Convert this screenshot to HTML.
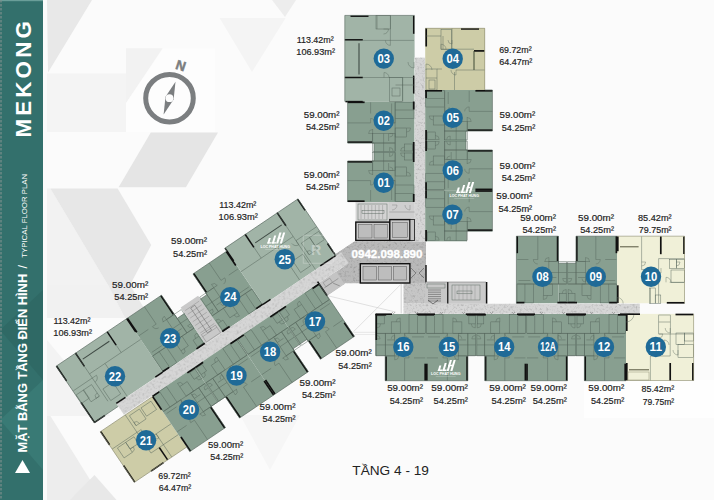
<!DOCTYPE html>
<html><head><meta charset="utf-8"><style>
html,body{margin:0;padding:0;width:714px;height:500px;overflow:hidden;background:#fbfbfb;}
svg{display:block;font-family:"Liberation Sans",sans-serif;}
</style></head><body>
<svg width="714" height="500" viewBox="0 0 714 500"><defs><filter id="spk" x="0" y="0" width="1" height="1" color-interpolation-filters="sRGB">
<feTurbulence type="fractalNoise" baseFrequency="0.45" numOctaves="3" seed="4" result="n"/>
<feColorMatrix in="n" type="matrix" values="0.33 0.33 0.33 0 0  0.33 0.33 0.33 0 0  0.33 0.33 0.33 0 0  0 0 0 0 1" result="g"/>
<feComponentTransfer in="g" result="h"><feFuncR type="linear" slope="0.6" intercept="0.7"/><feFuncG type="linear" slope="0.6" intercept="0.7"/><feFuncB type="linear" slope="0.6" intercept="0.7"/></feComponentTransfer>
<feBlend in="h" in2="SourceGraphic" mode="multiply" result="b"/>
<feComposite in="b" in2="SourceGraphic" operator="in"/>
</filter></defs><rect x="0.0" y="0.0" width="714.0" height="500.0" fill="#fbfbfb" />
<polygon points="47.0,0.0 92.0,0.0 48.0,72.5" fill="#e8e8e8" />
<polygon points="219.6,18.0 285.6,18.0 252.0,72.0" fill="#f4f4f4" />
<polygon points="272.0,0.0 296.0,0.0 285.0,17.0" fill="#ededed" />
<polygon points="47.0,73.5 126.0,73.5 126.0,132.0 47.0,132.0" fill="#f4f4f4" />
<polygon points="150.8,132.6 218.0,132.6 185.9,187.2 118.6,187.2" fill="#e5e5e5" />
<polygon points="47.0,188.4 50.4,188.4 108.0,285.0 47.0,285.0" fill="#f2f2f2" />
<polygon points="50.4,188.4 117.6,188.4 151.2,245.0 130.0,285.0 108.0,285.0" fill="#e7e7e7" />
<polygon points="47.0,285.0 108.0,285.0 125.0,318.0 47.0,318.0" fill="#f1f1f1" />
<polygon points="108.0,285.0 130.0,285.0 150.0,318.0 125.0,318.0" fill="#e9e9e9" />
<polygon points="47.0,340.0 47.0,416.0 110.0,416.0" fill="#f3f3f3" />
<polygon points="47.0,416.0 50.4,416.0 94.5,487.0 82.0,500.0 47.0,500.0" fill="#ededed" />
<polygon points="94.5,475.0 116.5,500.0 70.0,500.0" fill="#e8e8e8" />
<polygon points="240.0,415.0 300.0,415.0 270.0,470.0" fill="#f6f6f6" />
<rect x="584.0" y="380.0" width="130.0" height="38.0" fill="#fefefe" />
<rect x="126.0" y="48.3" width="89.0" height="83.7" fill="#fdfdfd" />
<polygon points="126.0,48.3 162.7,48.3 126.0,103.0" fill="#f2f2f2" />
<rect x="0.0" y="0.0" width="43.0" height="500.0" fill="#33706c" />
<polygon points="0.0,330.0 43.0,290.0 43.0,380.0" fill="#2f6965" />
<polygon points="0.0,420.0 43.0,380.0 43.0,470.0" fill="#397a75" />
<rect x="0.0" y="0.0" width="43.0" height="1.2" fill="#6a9e99" />
<line x1="1" y1="0" x2="1" y2="500" stroke="#7d8f8d" stroke-width="1.2" stroke-dasharray="2.5,1.5"/>
<circle cx="169.5" cy="98.2" r="23.8" fill="none" stroke="#7b7e80" stroke-width="5"/>
<polygon points="175.5,81.8 173.6,99.6 163.6,114.6 165.5,96.8" fill="#7b7e80" />
<circle cx="169.5" cy="98.2" r="3.9" fill="#fdfdfd"/>
<text x="0" y="0" font-family="Liberation Sans" font-weight="bold" font-size="13.5" fill="#7b7e80" stroke="#7b7e80" stroke-width="0.5" transform="translate(174.8,68.4) rotate(18)">N</text>
<line x1="328.4" y1="295.9" x2="395.6" y2="312" stroke="#c4c4c4" stroke-width="0.5"/>
<line x1="400.5" y1="284.7" x2="353.6" y2="331.6" stroke="#c4c4c4" stroke-width="0.5"/>
<line x1="353.6" y1="332.3" x2="376" y2="332.3" stroke="#d0d0d0" stroke-width="0.5"/>
<line x1="355" y1="334.5" x2="376" y2="334.5" stroke="#d8d8d8" stroke-width="0.5"/>
<line x1="401.2" y1="284" x2="401.2" y2="313.4" stroke="#aaaaaa" stroke-width="0.5"/>
<rect x="344.8" y="15.4" width="69.8" height="86.1" fill="#a1b4a7" />
<rect x="347.6" y="101.5" width="67.0" height="41.7" fill="#889f90" />
<rect x="374.0" y="143.0" width="40.6" height="18.2" fill="#889f90" />
<rect x="347.6" y="161.0" width="67.0" height="41.0" fill="#889f90" />
<rect x="355.8" y="202.0" width="58.8" height="39.3" fill="#cbcbcb" />
<rect x="414.6" y="57.4" width="10.6" height="184.0" fill="#d6d6d6" filter="url(#spk)"/>
<rect x="425.2" y="28.0" width="59.8" height="62.0" fill="#cdcca7" />
<rect x="425.2" y="90.0" width="67.2" height="41.0" fill="#889f90" />
<rect x="425.2" y="131.0" width="40.8" height="19.0" fill="#889f90" />
<rect x="425.2" y="150.0" width="67.2" height="40.2" fill="#889f90" />
<rect x="425.2" y="190.2" width="67.2" height="41.0" fill="#889f90" />
<rect x="425.2" y="231.0" width="41.3" height="10.3" fill="#889f90" />
<polygon points="335.2,254.0 354.3,241.3 426.0,241.3 426.0,283.5 345.0,283.5 344.5,283.9 327.1,295.7 318.7,283.2 343.6,266.5" fill="#b9b9b9" filter="url(#spk)"/>
<polygon points="318.7,283.2 336.1,271.5 344.5,283.9 327.1,295.7" fill="#c4c4c4" />
<rect x="403.3" y="283.0" width="22.7" height="21.0" fill="#c6c6c6" filter="url(#spk)"/>
<rect x="403.3" y="303.5" width="236.6" height="10.4" fill="#d6d6d6" filter="url(#spk)"/>
<rect x="425.5" y="282.0" width="61.5" height="21.5" fill="#cbcbcb" />
<rect x="516.4" y="236.2" width="42.0" height="67.0" fill="#889f90" />
<rect x="558.4" y="263.2" width="17.6" height="40.0" fill="#889f90" />
<rect x="576.0" y="236.2" width="41.2" height="67.0" fill="#889f90" />
<rect x="617.2" y="236.2" width="67.7" height="67.0" fill="#f0f0d8" />
<polygon points="375.6,313.9 626.0,313.9 626.0,380.7 584.4,380.7 584.4,355.5 567.5,355.5 567.5,380.7 484.8,380.7 484.8,355.5 467.9,355.5 467.9,380.7 385.2,380.7 385.2,355.5 375.6,355.5" fill="#889f90" />
<rect x="626.0" y="313.9" width="68.0" height="66.8" fill="#f0f0d8" />
<g transform="translate(56.2,366.2) rotate(-34)">
<polygon points="0.0,0.0 85.0,0.0 85.0,65.0 29.0,65.0 29.0,68.0 0.0,68.0" fill="#a1b4a7" />
<polygon points="85.0,0.0 127.0,0.0 127.0,28.0 136.0,28.0 136.0,65.0 85.0,65.0" fill="#889f90" />
<polygon points="136.0,21.0 157.0,21.0 157.0,65.0 136.0,65.0" fill="#c9c9c9" />
<polygon points="165.0,0.0 206.0,0.0 206.0,65.0 157.0,65.0 157.0,25.0 165.0,25.0" fill="#889f90" />
<polygon points="206.0,-3.5 294.0,-3.5 294.0,65.0 206.0,65.0" fill="#a1b4a7" />
<polygon points="29.0,65.0 300.0,65.0 300.0,78.0 29.0,78.0" fill="#d6d6d6" filter="url(#spk)"/>
<polygon points="0.0,79.0 63.0,79.0 63.0,140.0 0.0,140.0" fill="#cdcca7" />
<polygon points="63.0,78.0 114.0,78.0 114.0,120.0 106.0,120.0 106.0,145.5 63.0,145.5" fill="#889f90" />
<polygon points="114.0,78.0 165.0,78.0 165.0,145.5 123.0,145.5 123.0,120.0 114.0,120.0" fill="#889f90" />
<polygon points="165.0,78.0 214.0,78.0 214.0,118.0 206.0,118.0 206.0,145.5 165.0,145.5" fill="#889f90" />
<polygon points="214.0,78.0 264.0,78.0 264.0,142.0 223.0,142.0 223.0,118.0 214.0,118.0" fill="#889f90" />
</g>
<g transform="matrix(0,1,-1,0,414.60,101.50)">
<line x1="0.8" y1="19.5" x2="50.0" y2="19.5" stroke="#55655c" stroke-width="0.45"/>
<rect x="0.6" y="0.6" width="16.4" height="18.9" fill="none" stroke="#55655c" stroke-width="0.45"/>
<line x1="8.5" y1="0.6" x2="8.5" y2="19.5" stroke="#55655c" stroke-width="0.45"/>
<rect x="32.0" y="19.5" width="9.5" height="22.5" fill="none" stroke="#55655c" stroke-width="0.45"/>
<rect x="41.5" y="19.5" width="8.4" height="22.5" fill="none" stroke="#55655c" stroke-width="0.45"/>
<line x1="32.0" y1="31.0" x2="49.9" y2="31.0" stroke="#55655c" stroke-width="0.45"/>
<line x1="21.4" y1="44.0" x2="21.4" y2="67.0" stroke="#55655c" stroke-width="0.45"/>
<line x1="0.8" y1="44.0" x2="12.0" y2="44.0" stroke="#55655c" stroke-width="0.45"/>
<line x1="21.4" y1="19.5" x2="21.4" y2="30.0" stroke="#55655c" stroke-width="0.45"/>
<line x1="27.5" y1="42.0" x2="41.5" y2="42.0" stroke="#55655c" stroke-width="0.45"/>
<rect x="26.5" y="8.0" width="9.0" height="11.5" fill="none" stroke="#55655c" stroke-width="0.45"/>
<path d="M17.0,19.5 L21.5,19.5 A4.5,4.5 0 0 1 17.0,24.0" fill="none" stroke="#55655c" stroke-width="0.4"/>
<path d="M21.4,44.0 L16.9,44.0 A4.5,4.5 0 0 1 21.4,39.5" fill="none" stroke="#55655c" stroke-width="0.4"/>
<path d="M32.0,42.0 L32.0,46.0 A4.0,4.0 0 0 1 28.0,42.0" fill="none" stroke="#55655c" stroke-width="0.4"/>
<path d="M32.0,25.0 L32.0,21.5 A3.5,3.5 0 0 1 35.5,25.0" fill="none" stroke="#55655c" stroke-width="0.4"/>
<path d="M49.5,25.0 L46.0,25.0 A3.5,3.5 0 0 1 49.5,21.5" fill="none" stroke="#55655c" stroke-width="0.4"/>
<path d="M26.5,8.0 L26.5,4.0 A4.0,4.0 0 0 1 30.5,8.0" fill="none" stroke="#55655c" stroke-width="0.4"/>
<line x1="32.0" y1="26.0" x2="39.5" y2="26.0" stroke="#55655c" stroke-width="0.45"/>
<line x1="2.0" y1="23.0" x2="14.0" y2="23.0" stroke="#55655c" stroke-width="0.45"/>
<rect x="42.5" y="2.0" width="7.0" height="8.0" fill="none" stroke="#55655c" stroke-width="0.45"/>
<path d="M49.5,10.0 L49.5,14.0 A4.0,4.0 0 0 1 45.5,10.0" fill="none" stroke="#55655c" stroke-width="0.4"/>
<line x1="0.8" y1="50.0" x2="0.8" y2="67.0" stroke="#111" stroke-width="1.70"/>
<line x1="40.7" y1="42.5" x2="40.7" y2="67.0" stroke="#111" stroke-width="1.70"/>
<line x1="40.5" y1="0.9" x2="50.5" y2="0.9" stroke="#111" stroke-width="1.70"/>
<line x1="0.0" y1="0.9" x2="8.0" y2="0.9" stroke="#111" stroke-width="1.70"/>
</g>
<g transform="matrix(0,-1,-1,0,414.60,202.00)">
<line x1="0.8" y1="19.5" x2="49.5" y2="19.5" stroke="#55655c" stroke-width="0.45"/>
<rect x="0.6" y="0.6" width="16.4" height="18.9" fill="none" stroke="#55655c" stroke-width="0.45"/>
<line x1="8.5" y1="0.6" x2="8.5" y2="19.5" stroke="#55655c" stroke-width="0.45"/>
<rect x="31.5" y="19.5" width="9.5" height="22.5" fill="none" stroke="#55655c" stroke-width="0.45"/>
<rect x="41.0" y="19.5" width="8.4" height="22.5" fill="none" stroke="#55655c" stroke-width="0.45"/>
<line x1="31.5" y1="31.0" x2="49.4" y2="31.0" stroke="#55655c" stroke-width="0.45"/>
<line x1="21.4" y1="44.0" x2="21.4" y2="67.0" stroke="#55655c" stroke-width="0.45"/>
<line x1="0.8" y1="44.0" x2="12.0" y2="44.0" stroke="#55655c" stroke-width="0.45"/>
<line x1="21.4" y1="19.5" x2="21.4" y2="30.0" stroke="#55655c" stroke-width="0.45"/>
<line x1="27.0" y1="42.0" x2="41.0" y2="42.0" stroke="#55655c" stroke-width="0.45"/>
<rect x="26.0" y="8.0" width="9.0" height="11.5" fill="none" stroke="#55655c" stroke-width="0.45"/>
<path d="M17.0,19.5 L21.5,19.5 A4.5,4.5 0 0 1 17.0,24.0" fill="none" stroke="#55655c" stroke-width="0.4"/>
<path d="M21.4,44.0 L16.9,44.0 A4.5,4.5 0 0 1 21.4,39.5" fill="none" stroke="#55655c" stroke-width="0.4"/>
<path d="M31.5,42.0 L31.5,46.0 A4.0,4.0 0 0 1 27.5,42.0" fill="none" stroke="#55655c" stroke-width="0.4"/>
<path d="M31.5,25.0 L31.5,21.5 A3.5,3.5 0 0 1 35.0,25.0" fill="none" stroke="#55655c" stroke-width="0.4"/>
<path d="M49.0,25.0 L45.5,25.0 A3.5,3.5 0 0 1 49.0,21.5" fill="none" stroke="#55655c" stroke-width="0.4"/>
<path d="M26.0,8.0 L26.0,4.0 A4.0,4.0 0 0 1 30.0,8.0" fill="none" stroke="#55655c" stroke-width="0.4"/>
<line x1="31.5" y1="26.0" x2="39.0" y2="26.0" stroke="#55655c" stroke-width="0.45"/>
<line x1="2.0" y1="23.0" x2="14.0" y2="23.0" stroke="#55655c" stroke-width="0.45"/>
<rect x="42.0" y="2.0" width="7.0" height="8.0" fill="none" stroke="#55655c" stroke-width="0.45"/>
<path d="M49.0,10.0 L49.0,14.0 A4.0,4.0 0 0 1 45.0,10.0" fill="none" stroke="#55655c" stroke-width="0.4"/>
<line x1="0.8" y1="50.0" x2="0.8" y2="67.0" stroke="#111" stroke-width="1.70"/>
<line x1="40.2" y1="42.5" x2="40.2" y2="67.0" stroke="#111" stroke-width="1.70"/>
<line x1="40.0" y1="0.9" x2="50.0" y2="0.9" stroke="#111" stroke-width="1.70"/>
<line x1="0.0" y1="0.9" x2="8.0" y2="0.9" stroke="#111" stroke-width="1.70"/>
</g>
<g transform="matrix(0,1,1,0,425.20,90.00)">
<line x1="0.8" y1="19.5" x2="50.0" y2="19.5" stroke="#55655c" stroke-width="0.45"/>
<rect x="0.6" y="0.6" width="16.4" height="18.9" fill="none" stroke="#55655c" stroke-width="0.45"/>
<line x1="8.5" y1="0.6" x2="8.5" y2="19.5" stroke="#55655c" stroke-width="0.45"/>
<rect x="31.5" y="19.5" width="9.5" height="22.5" fill="none" stroke="#55655c" stroke-width="0.45"/>
<rect x="41.0" y="19.5" width="8.9" height="22.5" fill="none" stroke="#55655c" stroke-width="0.45"/>
<line x1="31.5" y1="31.0" x2="49.9" y2="31.0" stroke="#55655c" stroke-width="0.45"/>
<line x1="21.4" y1="44.0" x2="21.4" y2="67.2" stroke="#55655c" stroke-width="0.45"/>
<line x1="0.8" y1="44.0" x2="12.0" y2="44.0" stroke="#55655c" stroke-width="0.45"/>
<line x1="21.4" y1="19.5" x2="21.4" y2="30.0" stroke="#55655c" stroke-width="0.45"/>
<line x1="27.0" y1="42.0" x2="41.0" y2="42.0" stroke="#55655c" stroke-width="0.45"/>
<rect x="26.0" y="8.0" width="9.0" height="11.5" fill="none" stroke="#55655c" stroke-width="0.45"/>
<path d="M17.0,19.5 L21.5,19.5 A4.5,4.5 0 0 1 17.0,24.0" fill="none" stroke="#55655c" stroke-width="0.4"/>
<path d="M21.4,44.0 L16.9,44.0 A4.5,4.5 0 0 1 21.4,39.5" fill="none" stroke="#55655c" stroke-width="0.4"/>
<path d="M31.5,42.0 L31.5,46.0 A4.0,4.0 0 0 1 27.5,42.0" fill="none" stroke="#55655c" stroke-width="0.4"/>
<path d="M31.5,25.0 L31.5,21.5 A3.5,3.5 0 0 1 35.0,25.0" fill="none" stroke="#55655c" stroke-width="0.4"/>
<path d="M49.5,25.0 L46.0,25.0 A3.5,3.5 0 0 1 49.5,21.5" fill="none" stroke="#55655c" stroke-width="0.4"/>
<path d="M26.0,8.0 L26.0,4.0 A4.0,4.0 0 0 1 30.0,8.0" fill="none" stroke="#55655c" stroke-width="0.4"/>
<line x1="31.5" y1="26.0" x2="39.0" y2="26.0" stroke="#55655c" stroke-width="0.45"/>
<line x1="2.0" y1="23.0" x2="14.0" y2="23.0" stroke="#55655c" stroke-width="0.45"/>
<rect x="42.0" y="2.0" width="7.5" height="8.0" fill="none" stroke="#55655c" stroke-width="0.45"/>
<path d="M49.5,10.0 L49.5,14.0 A4.0,4.0 0 0 1 45.5,10.0" fill="none" stroke="#55655c" stroke-width="0.4"/>
<line x1="0.8" y1="50.2" x2="0.8" y2="67.2" stroke="#111" stroke-width="1.70"/>
<line x1="40.2" y1="42.5" x2="40.2" y2="67.2" stroke="#111" stroke-width="1.70"/>
<line x1="40.0" y1="0.9" x2="50.5" y2="0.9" stroke="#111" stroke-width="1.70"/>
<line x1="0.0" y1="0.9" x2="8.0" y2="0.9" stroke="#111" stroke-width="1.70"/>
</g>
<g transform="matrix(0,-1,1,0,425.20,190.20)">
<line x1="0.8" y1="19.5" x2="49.2" y2="19.5" stroke="#55655c" stroke-width="0.45"/>
<rect x="0.6" y="0.6" width="16.4" height="18.9" fill="none" stroke="#55655c" stroke-width="0.45"/>
<line x1="8.5" y1="0.6" x2="8.5" y2="19.5" stroke="#55655c" stroke-width="0.45"/>
<rect x="30.7" y="19.5" width="9.5" height="22.5" fill="none" stroke="#55655c" stroke-width="0.45"/>
<rect x="40.2" y="19.5" width="8.9" height="22.5" fill="none" stroke="#55655c" stroke-width="0.45"/>
<line x1="30.7" y1="31.0" x2="49.1" y2="31.0" stroke="#55655c" stroke-width="0.45"/>
<line x1="21.4" y1="44.0" x2="21.4" y2="67.2" stroke="#55655c" stroke-width="0.45"/>
<line x1="0.8" y1="44.0" x2="12.0" y2="44.0" stroke="#55655c" stroke-width="0.45"/>
<line x1="21.4" y1="19.5" x2="21.4" y2="30.0" stroke="#55655c" stroke-width="0.45"/>
<line x1="26.2" y1="42.0" x2="40.2" y2="42.0" stroke="#55655c" stroke-width="0.45"/>
<rect x="25.2" y="8.0" width="9.0" height="11.5" fill="none" stroke="#55655c" stroke-width="0.45"/>
<path d="M17.0,19.5 L21.5,19.5 A4.5,4.5 0 0 1 17.0,24.0" fill="none" stroke="#55655c" stroke-width="0.4"/>
<path d="M21.4,44.0 L16.9,44.0 A4.5,4.5 0 0 1 21.4,39.5" fill="none" stroke="#55655c" stroke-width="0.4"/>
<path d="M30.7,42.0 L30.7,46.0 A4.0,4.0 0 0 1 26.7,42.0" fill="none" stroke="#55655c" stroke-width="0.4"/>
<path d="M30.7,25.0 L30.7,21.5 A3.5,3.5 0 0 1 34.2,25.0" fill="none" stroke="#55655c" stroke-width="0.4"/>
<path d="M48.7,25.0 L45.2,25.0 A3.5,3.5 0 0 1 48.7,21.5" fill="none" stroke="#55655c" stroke-width="0.4"/>
<path d="M25.2,8.0 L25.2,4.0 A4.0,4.0 0 0 1 29.2,8.0" fill="none" stroke="#55655c" stroke-width="0.4"/>
<line x1="30.7" y1="26.0" x2="38.2" y2="26.0" stroke="#55655c" stroke-width="0.45"/>
<line x1="2.0" y1="23.0" x2="14.0" y2="23.0" stroke="#55655c" stroke-width="0.45"/>
<rect x="41.2" y="2.0" width="7.5" height="8.0" fill="none" stroke="#55655c" stroke-width="0.45"/>
<path d="M48.7,10.0 L48.7,14.0 A4.0,4.0 0 0 1 44.7,10.0" fill="none" stroke="#55655c" stroke-width="0.4"/>
<line x1="0.8" y1="50.2" x2="0.8" y2="67.2" stroke="#111" stroke-width="1.70"/>
<line x1="39.4" y1="42.5" x2="39.4" y2="67.2" stroke="#111" stroke-width="1.70"/>
<line x1="39.2" y1="0.9" x2="49.7" y2="0.9" stroke="#111" stroke-width="1.70"/>
<line x1="0.0" y1="0.9" x2="8.0" y2="0.9" stroke="#111" stroke-width="1.70"/>
</g>
<g transform="matrix(0,1,1,0,425.20,190.20)">
<line x1="0.8" y1="19.5" x2="50.6" y2="19.5" stroke="#55655c" stroke-width="0.45"/>
<rect x="0.6" y="0.6" width="16.4" height="18.9" fill="none" stroke="#55655c" stroke-width="0.45"/>
<line x1="8.5" y1="0.6" x2="8.5" y2="19.5" stroke="#55655c" stroke-width="0.45"/>
<rect x="31.3" y="19.5" width="9.5" height="22.5" fill="none" stroke="#55655c" stroke-width="0.45"/>
<rect x="40.8" y="19.5" width="9.7" height="22.5" fill="none" stroke="#55655c" stroke-width="0.45"/>
<line x1="31.3" y1="31.0" x2="50.5" y2="31.0" stroke="#55655c" stroke-width="0.45"/>
<line x1="21.4" y1="44.0" x2="21.4" y2="67.2" stroke="#55655c" stroke-width="0.45"/>
<line x1="0.8" y1="44.0" x2="12.0" y2="44.0" stroke="#55655c" stroke-width="0.45"/>
<line x1="21.4" y1="19.5" x2="21.4" y2="30.0" stroke="#55655c" stroke-width="0.45"/>
<line x1="26.8" y1="42.0" x2="40.8" y2="42.0" stroke="#55655c" stroke-width="0.45"/>
<rect x="25.8" y="8.0" width="9.0" height="11.5" fill="none" stroke="#55655c" stroke-width="0.45"/>
<path d="M17.0,19.5 L21.5,19.5 A4.5,4.5 0 0 1 17.0,24.0" fill="none" stroke="#55655c" stroke-width="0.4"/>
<path d="M21.4,44.0 L16.9,44.0 A4.5,4.5 0 0 1 21.4,39.5" fill="none" stroke="#55655c" stroke-width="0.4"/>
<path d="M31.3,42.0 L31.3,46.0 A4.0,4.0 0 0 1 27.3,42.0" fill="none" stroke="#55655c" stroke-width="0.4"/>
<path d="M31.3,25.0 L31.3,21.5 A3.5,3.5 0 0 1 34.8,25.0" fill="none" stroke="#55655c" stroke-width="0.4"/>
<path d="M50.1,25.0 L46.6,25.0 A3.5,3.5 0 0 1 50.1,21.5" fill="none" stroke="#55655c" stroke-width="0.4"/>
<path d="M25.8,8.0 L25.8,4.0 A4.0,4.0 0 0 1 29.8,8.0" fill="none" stroke="#55655c" stroke-width="0.4"/>
<line x1="31.3" y1="26.0" x2="38.8" y2="26.0" stroke="#55655c" stroke-width="0.45"/>
<line x1="2.0" y1="23.0" x2="14.0" y2="23.0" stroke="#55655c" stroke-width="0.45"/>
<rect x="41.8" y="2.0" width="8.3" height="8.0" fill="none" stroke="#55655c" stroke-width="0.45"/>
<path d="M50.1,10.0 L50.1,14.0 A4.0,4.0 0 0 1 46.1,10.0" fill="none" stroke="#55655c" stroke-width="0.4"/>
<line x1="0.8" y1="50.2" x2="0.8" y2="67.2" stroke="#111" stroke-width="1.70"/>
<line x1="40.0" y1="42.5" x2="40.0" y2="67.2" stroke="#111" stroke-width="1.70"/>
<line x1="39.8" y1="0.9" x2="51.1" y2="0.9" stroke="#111" stroke-width="1.70"/>
<line x1="0.0" y1="0.9" x2="8.0" y2="0.9" stroke="#111" stroke-width="1.70"/>
</g>
<g transform="matrix(1,0,0,-1,516.40,303.50)">
<line x1="0.8" y1="19.5" x2="50.3" y2="19.5" stroke="#55655c" stroke-width="0.45"/>
<rect x="0.6" y="0.6" width="16.4" height="18.9" fill="none" stroke="#55655c" stroke-width="0.45"/>
<line x1="8.5" y1="0.6" x2="8.5" y2="19.5" stroke="#55655c" stroke-width="0.45"/>
<rect x="32.5" y="19.5" width="9.5" height="22.5" fill="none" stroke="#55655c" stroke-width="0.45"/>
<rect x="42.0" y="19.5" width="8.2" height="22.5" fill="none" stroke="#55655c" stroke-width="0.45"/>
<line x1="32.5" y1="31.0" x2="50.2" y2="31.0" stroke="#55655c" stroke-width="0.45"/>
<line x1="21.4" y1="44.0" x2="21.4" y2="67.3" stroke="#55655c" stroke-width="0.45"/>
<line x1="0.8" y1="44.0" x2="12.0" y2="44.0" stroke="#55655c" stroke-width="0.45"/>
<line x1="21.4" y1="19.5" x2="21.4" y2="30.0" stroke="#55655c" stroke-width="0.45"/>
<line x1="28.0" y1="42.0" x2="42.0" y2="42.0" stroke="#55655c" stroke-width="0.45"/>
<rect x="27.0" y="8.0" width="9.0" height="11.5" fill="none" stroke="#55655c" stroke-width="0.45"/>
<path d="M17.0,19.5 L21.5,19.5 A4.5,4.5 0 0 1 17.0,24.0" fill="none" stroke="#55655c" stroke-width="0.4"/>
<path d="M21.4,44.0 L16.9,44.0 A4.5,4.5 0 0 1 21.4,39.5" fill="none" stroke="#55655c" stroke-width="0.4"/>
<path d="M32.5,42.0 L32.5,46.0 A4.0,4.0 0 0 1 28.5,42.0" fill="none" stroke="#55655c" stroke-width="0.4"/>
<path d="M32.5,25.0 L32.5,21.5 A3.5,3.5 0 0 1 36.0,25.0" fill="none" stroke="#55655c" stroke-width="0.4"/>
<path d="M49.8,25.0 L46.3,25.0 A3.5,3.5 0 0 1 49.8,21.5" fill="none" stroke="#55655c" stroke-width="0.4"/>
<path d="M27.0,8.0 L27.0,4.0 A4.0,4.0 0 0 1 31.0,8.0" fill="none" stroke="#55655c" stroke-width="0.4"/>
<line x1="32.5" y1="26.0" x2="40.0" y2="26.0" stroke="#55655c" stroke-width="0.45"/>
<line x1="2.0" y1="23.0" x2="14.0" y2="23.0" stroke="#55655c" stroke-width="0.45"/>
<rect x="43.0" y="2.0" width="6.8" height="8.0" fill="none" stroke="#55655c" stroke-width="0.45"/>
<path d="M49.8,10.0 L49.8,14.0 A4.0,4.0 0 0 1 45.8,10.0" fill="none" stroke="#55655c" stroke-width="0.4"/>
<line x1="0.8" y1="50.3" x2="0.8" y2="67.3" stroke="#111" stroke-width="1.70"/>
<line x1="41.2" y1="42.5" x2="41.2" y2="67.3" stroke="#111" stroke-width="1.70"/>
<line x1="41.0" y1="0.9" x2="50.8" y2="0.9" stroke="#111" stroke-width="1.70"/>
<line x1="0.0" y1="0.9" x2="8.0" y2="0.9" stroke="#111" stroke-width="1.70"/>
</g>
<g transform="matrix(-1,0,0,-1,617.20,303.50)">
<line x1="0.8" y1="19.5" x2="49.5" y2="19.5" stroke="#55655c" stroke-width="0.45"/>
<rect x="0.6" y="0.6" width="16.4" height="18.9" fill="none" stroke="#55655c" stroke-width="0.45"/>
<line x1="8.5" y1="0.6" x2="8.5" y2="19.5" stroke="#55655c" stroke-width="0.45"/>
<rect x="31.7" y="19.5" width="9.5" height="22.5" fill="none" stroke="#55655c" stroke-width="0.45"/>
<rect x="41.2" y="19.5" width="8.2" height="22.5" fill="none" stroke="#55655c" stroke-width="0.45"/>
<line x1="31.7" y1="31.0" x2="49.4" y2="31.0" stroke="#55655c" stroke-width="0.45"/>
<line x1="21.4" y1="44.0" x2="21.4" y2="67.3" stroke="#55655c" stroke-width="0.45"/>
<line x1="0.8" y1="44.0" x2="12.0" y2="44.0" stroke="#55655c" stroke-width="0.45"/>
<line x1="21.4" y1="19.5" x2="21.4" y2="30.0" stroke="#55655c" stroke-width="0.45"/>
<line x1="27.2" y1="42.0" x2="41.2" y2="42.0" stroke="#55655c" stroke-width="0.45"/>
<rect x="26.2" y="8.0" width="9.0" height="11.5" fill="none" stroke="#55655c" stroke-width="0.45"/>
<path d="M17.0,19.5 L21.5,19.5 A4.5,4.5 0 0 1 17.0,24.0" fill="none" stroke="#55655c" stroke-width="0.4"/>
<path d="M21.4,44.0 L16.9,44.0 A4.5,4.5 0 0 1 21.4,39.5" fill="none" stroke="#55655c" stroke-width="0.4"/>
<path d="M31.7,42.0 L31.7,46.0 A4.0,4.0 0 0 1 27.7,42.0" fill="none" stroke="#55655c" stroke-width="0.4"/>
<path d="M31.7,25.0 L31.7,21.5 A3.5,3.5 0 0 1 35.2,25.0" fill="none" stroke="#55655c" stroke-width="0.4"/>
<path d="M49.0,25.0 L45.5,25.0 A3.5,3.5 0 0 1 49.0,21.5" fill="none" stroke="#55655c" stroke-width="0.4"/>
<path d="M26.2,8.0 L26.2,4.0 A4.0,4.0 0 0 1 30.2,8.0" fill="none" stroke="#55655c" stroke-width="0.4"/>
<line x1="31.7" y1="26.0" x2="39.2" y2="26.0" stroke="#55655c" stroke-width="0.45"/>
<line x1="2.0" y1="23.0" x2="14.0" y2="23.0" stroke="#55655c" stroke-width="0.45"/>
<rect x="42.2" y="2.0" width="6.8" height="8.0" fill="none" stroke="#55655c" stroke-width="0.45"/>
<path d="M49.0,10.0 L49.0,14.0 A4.0,4.0 0 0 1 45.0,10.0" fill="none" stroke="#55655c" stroke-width="0.4"/>
<line x1="0.8" y1="50.3" x2="0.8" y2="67.3" stroke="#111" stroke-width="1.70"/>
<line x1="40.4" y1="42.5" x2="40.4" y2="67.3" stroke="#111" stroke-width="1.70"/>
<line x1="40.2" y1="0.9" x2="50.0" y2="0.9" stroke="#111" stroke-width="1.70"/>
<line x1="0.0" y1="0.9" x2="8.0" y2="0.9" stroke="#111" stroke-width="1.70"/>
</g>
<g transform="matrix(-1,0,0,1,426.00,313.90)">
<line x1="0.8" y1="19.5" x2="49.9" y2="19.5" stroke="#55655c" stroke-width="0.45"/>
<rect x="0.6" y="0.6" width="16.4" height="18.9" fill="none" stroke="#55655c" stroke-width="0.45"/>
<line x1="8.5" y1="0.6" x2="8.5" y2="19.5" stroke="#55655c" stroke-width="0.45"/>
<rect x="31.3" y="19.5" width="9.5" height="22.5" fill="none" stroke="#55655c" stroke-width="0.45"/>
<rect x="40.8" y="19.5" width="9.0" height="22.5" fill="none" stroke="#55655c" stroke-width="0.45"/>
<line x1="31.3" y1="31.0" x2="49.8" y2="31.0" stroke="#55655c" stroke-width="0.45"/>
<line x1="21.4" y1="44.0" x2="21.4" y2="66.8" stroke="#55655c" stroke-width="0.45"/>
<line x1="0.8" y1="44.0" x2="12.0" y2="44.0" stroke="#55655c" stroke-width="0.45"/>
<line x1="21.4" y1="19.5" x2="21.4" y2="30.0" stroke="#55655c" stroke-width="0.45"/>
<line x1="26.8" y1="42.0" x2="40.8" y2="42.0" stroke="#55655c" stroke-width="0.45"/>
<rect x="25.8" y="8.0" width="9.0" height="11.5" fill="none" stroke="#55655c" stroke-width="0.45"/>
<path d="M17.0,19.5 L21.5,19.5 A4.5,4.5 0 0 1 17.0,24.0" fill="none" stroke="#55655c" stroke-width="0.4"/>
<path d="M21.4,44.0 L16.9,44.0 A4.5,4.5 0 0 1 21.4,39.5" fill="none" stroke="#55655c" stroke-width="0.4"/>
<path d="M31.3,42.0 L31.3,46.0 A4.0,4.0 0 0 1 27.3,42.0" fill="none" stroke="#55655c" stroke-width="0.4"/>
<path d="M31.3,25.0 L31.3,21.5 A3.5,3.5 0 0 1 34.8,25.0" fill="none" stroke="#55655c" stroke-width="0.4"/>
<path d="M49.4,25.0 L45.9,25.0 A3.5,3.5 0 0 1 49.4,21.5" fill="none" stroke="#55655c" stroke-width="0.4"/>
<path d="M25.8,8.0 L25.8,4.0 A4.0,4.0 0 0 1 29.8,8.0" fill="none" stroke="#55655c" stroke-width="0.4"/>
<line x1="31.3" y1="26.0" x2="38.8" y2="26.0" stroke="#55655c" stroke-width="0.45"/>
<line x1="2.0" y1="23.0" x2="14.0" y2="23.0" stroke="#55655c" stroke-width="0.45"/>
<rect x="41.8" y="2.0" width="7.6" height="8.0" fill="none" stroke="#55655c" stroke-width="0.45"/>
<path d="M49.4,10.0 L49.4,14.0 A4.0,4.0 0 0 1 45.4,10.0" fill="none" stroke="#55655c" stroke-width="0.4"/>
<line x1="0.8" y1="49.8" x2="0.8" y2="66.8" stroke="#111" stroke-width="1.70"/>
<line x1="40.0" y1="42.5" x2="40.0" y2="66.8" stroke="#111" stroke-width="1.70"/>
<line x1="39.8" y1="0.9" x2="50.4" y2="0.9" stroke="#111" stroke-width="1.70"/>
<line x1="0.0" y1="0.9" x2="8.0" y2="0.9" stroke="#111" stroke-width="1.70"/>
</g>
<g transform="matrix(1,0,0,1,426.00,313.90)">
<line x1="0.8" y1="19.5" x2="49.8" y2="19.5" stroke="#55655c" stroke-width="0.45"/>
<rect x="0.6" y="0.6" width="16.4" height="18.9" fill="none" stroke="#55655c" stroke-width="0.45"/>
<line x1="8.5" y1="0.6" x2="8.5" y2="19.5" stroke="#55655c" stroke-width="0.45"/>
<rect x="32.4" y="19.5" width="9.5" height="22.5" fill="none" stroke="#55655c" stroke-width="0.45"/>
<rect x="41.9" y="19.5" width="7.8" height="22.5" fill="none" stroke="#55655c" stroke-width="0.45"/>
<line x1="32.4" y1="31.0" x2="49.7" y2="31.0" stroke="#55655c" stroke-width="0.45"/>
<line x1="21.4" y1="44.0" x2="21.4" y2="66.8" stroke="#55655c" stroke-width="0.45"/>
<line x1="0.8" y1="44.0" x2="12.0" y2="44.0" stroke="#55655c" stroke-width="0.45"/>
<line x1="21.4" y1="19.5" x2="21.4" y2="30.0" stroke="#55655c" stroke-width="0.45"/>
<line x1="27.9" y1="42.0" x2="41.9" y2="42.0" stroke="#55655c" stroke-width="0.45"/>
<rect x="26.9" y="8.0" width="9.0" height="11.5" fill="none" stroke="#55655c" stroke-width="0.45"/>
<path d="M17.0,19.5 L21.5,19.5 A4.5,4.5 0 0 1 17.0,24.0" fill="none" stroke="#55655c" stroke-width="0.4"/>
<path d="M21.4,44.0 L16.9,44.0 A4.5,4.5 0 0 1 21.4,39.5" fill="none" stroke="#55655c" stroke-width="0.4"/>
<path d="M32.4,42.0 L32.4,46.0 A4.0,4.0 0 0 1 28.4,42.0" fill="none" stroke="#55655c" stroke-width="0.4"/>
<path d="M32.4,25.0 L32.4,21.5 A3.5,3.5 0 0 1 35.9,25.0" fill="none" stroke="#55655c" stroke-width="0.4"/>
<path d="M49.3,25.0 L45.8,25.0 A3.5,3.5 0 0 1 49.3,21.5" fill="none" stroke="#55655c" stroke-width="0.4"/>
<path d="M26.9,8.0 L26.9,4.0 A4.0,4.0 0 0 1 30.9,8.0" fill="none" stroke="#55655c" stroke-width="0.4"/>
<line x1="32.4" y1="26.0" x2="39.9" y2="26.0" stroke="#55655c" stroke-width="0.45"/>
<line x1="2.0" y1="23.0" x2="14.0" y2="23.0" stroke="#55655c" stroke-width="0.45"/>
<rect x="42.9" y="2.0" width="6.4" height="8.0" fill="none" stroke="#55655c" stroke-width="0.45"/>
<path d="M49.3,10.0 L49.3,14.0 A4.0,4.0 0 0 1 45.3,10.0" fill="none" stroke="#55655c" stroke-width="0.4"/>
<line x1="0.8" y1="49.8" x2="0.8" y2="66.8" stroke="#111" stroke-width="1.70"/>
<line x1="41.1" y1="42.5" x2="41.1" y2="66.8" stroke="#111" stroke-width="1.70"/>
<line x1="40.9" y1="0.9" x2="50.3" y2="0.9" stroke="#111" stroke-width="1.70"/>
<line x1="0.0" y1="0.9" x2="8.0" y2="0.9" stroke="#111" stroke-width="1.70"/>
</g>
<g transform="matrix(-1,0,0,1,526.20,313.90)">
<line x1="0.8" y1="19.5" x2="49.4" y2="19.5" stroke="#55655c" stroke-width="0.45"/>
<rect x="0.6" y="0.6" width="16.4" height="18.9" fill="none" stroke="#55655c" stroke-width="0.45"/>
<line x1="8.5" y1="0.6" x2="8.5" y2="19.5" stroke="#55655c" stroke-width="0.45"/>
<rect x="31.9" y="19.5" width="9.5" height="22.5" fill="none" stroke="#55655c" stroke-width="0.45"/>
<rect x="41.4" y="19.5" width="7.9" height="22.5" fill="none" stroke="#55655c" stroke-width="0.45"/>
<line x1="31.9" y1="31.0" x2="49.3" y2="31.0" stroke="#55655c" stroke-width="0.45"/>
<line x1="21.4" y1="44.0" x2="21.4" y2="66.8" stroke="#55655c" stroke-width="0.45"/>
<line x1="0.8" y1="44.0" x2="12.0" y2="44.0" stroke="#55655c" stroke-width="0.45"/>
<line x1="21.4" y1="19.5" x2="21.4" y2="30.0" stroke="#55655c" stroke-width="0.45"/>
<line x1="27.4" y1="42.0" x2="41.4" y2="42.0" stroke="#55655c" stroke-width="0.45"/>
<rect x="26.4" y="8.0" width="9.0" height="11.5" fill="none" stroke="#55655c" stroke-width="0.45"/>
<path d="M17.0,19.5 L21.5,19.5 A4.5,4.5 0 0 1 17.0,24.0" fill="none" stroke="#55655c" stroke-width="0.4"/>
<path d="M21.4,44.0 L16.9,44.0 A4.5,4.5 0 0 1 21.4,39.5" fill="none" stroke="#55655c" stroke-width="0.4"/>
<path d="M31.9,42.0 L31.9,46.0 A4.0,4.0 0 0 1 27.9,42.0" fill="none" stroke="#55655c" stroke-width="0.4"/>
<path d="M31.9,25.0 L31.9,21.5 A3.5,3.5 0 0 1 35.4,25.0" fill="none" stroke="#55655c" stroke-width="0.4"/>
<path d="M48.9,25.0 L45.4,25.0 A3.5,3.5 0 0 1 48.9,21.5" fill="none" stroke="#55655c" stroke-width="0.4"/>
<path d="M26.4,8.0 L26.4,4.0 A4.0,4.0 0 0 1 30.4,8.0" fill="none" stroke="#55655c" stroke-width="0.4"/>
<line x1="31.9" y1="26.0" x2="39.4" y2="26.0" stroke="#55655c" stroke-width="0.45"/>
<line x1="2.0" y1="23.0" x2="14.0" y2="23.0" stroke="#55655c" stroke-width="0.45"/>
<rect x="42.4" y="2.0" width="6.5" height="8.0" fill="none" stroke="#55655c" stroke-width="0.45"/>
<path d="M48.9,10.0 L48.9,14.0 A4.0,4.0 0 0 1 44.9,10.0" fill="none" stroke="#55655c" stroke-width="0.4"/>
<line x1="0.8" y1="49.8" x2="0.8" y2="66.8" stroke="#111" stroke-width="1.70"/>
<line x1="40.6" y1="42.5" x2="40.6" y2="66.8" stroke="#111" stroke-width="1.70"/>
<line x1="40.4" y1="0.9" x2="49.9" y2="0.9" stroke="#111" stroke-width="1.70"/>
<line x1="0.0" y1="0.9" x2="8.0" y2="0.9" stroke="#111" stroke-width="1.70"/>
</g>
<g transform="matrix(1,0,0,1,526.20,313.90)">
<line x1="0.8" y1="19.5" x2="49.3" y2="19.5" stroke="#55655c" stroke-width="0.45"/>
<rect x="0.6" y="0.6" width="16.4" height="18.9" fill="none" stroke="#55655c" stroke-width="0.45"/>
<line x1="8.5" y1="0.6" x2="8.5" y2="19.5" stroke="#55655c" stroke-width="0.45"/>
<rect x="31.8" y="19.5" width="9.5" height="22.5" fill="none" stroke="#55655c" stroke-width="0.45"/>
<rect x="41.3" y="19.5" width="7.9" height="22.5" fill="none" stroke="#55655c" stroke-width="0.45"/>
<line x1="31.8" y1="31.0" x2="49.2" y2="31.0" stroke="#55655c" stroke-width="0.45"/>
<line x1="21.4" y1="44.0" x2="21.4" y2="66.8" stroke="#55655c" stroke-width="0.45"/>
<line x1="0.8" y1="44.0" x2="12.0" y2="44.0" stroke="#55655c" stroke-width="0.45"/>
<line x1="21.4" y1="19.5" x2="21.4" y2="30.0" stroke="#55655c" stroke-width="0.45"/>
<line x1="27.3" y1="42.0" x2="41.3" y2="42.0" stroke="#55655c" stroke-width="0.45"/>
<rect x="26.3" y="8.0" width="9.0" height="11.5" fill="none" stroke="#55655c" stroke-width="0.45"/>
<path d="M17.0,19.5 L21.5,19.5 A4.5,4.5 0 0 1 17.0,24.0" fill="none" stroke="#55655c" stroke-width="0.4"/>
<path d="M21.4,44.0 L16.9,44.0 A4.5,4.5 0 0 1 21.4,39.5" fill="none" stroke="#55655c" stroke-width="0.4"/>
<path d="M31.8,42.0 L31.8,46.0 A4.0,4.0 0 0 1 27.8,42.0" fill="none" stroke="#55655c" stroke-width="0.4"/>
<path d="M31.8,25.0 L31.8,21.5 A3.5,3.5 0 0 1 35.3,25.0" fill="none" stroke="#55655c" stroke-width="0.4"/>
<path d="M48.8,25.0 L45.3,25.0 A3.5,3.5 0 0 1 48.8,21.5" fill="none" stroke="#55655c" stroke-width="0.4"/>
<path d="M26.3,8.0 L26.3,4.0 A4.0,4.0 0 0 1 30.3,8.0" fill="none" stroke="#55655c" stroke-width="0.4"/>
<line x1="31.8" y1="26.0" x2="39.3" y2="26.0" stroke="#55655c" stroke-width="0.45"/>
<line x1="2.0" y1="23.0" x2="14.0" y2="23.0" stroke="#55655c" stroke-width="0.45"/>
<rect x="42.3" y="2.0" width="6.5" height="8.0" fill="none" stroke="#55655c" stroke-width="0.45"/>
<path d="M48.8,10.0 L48.8,14.0 A4.0,4.0 0 0 1 44.8,10.0" fill="none" stroke="#55655c" stroke-width="0.4"/>
<line x1="0.8" y1="49.8" x2="0.8" y2="66.8" stroke="#111" stroke-width="1.70"/>
<line x1="40.5" y1="42.5" x2="40.5" y2="66.8" stroke="#111" stroke-width="1.70"/>
<line x1="40.3" y1="0.9" x2="49.8" y2="0.9" stroke="#111" stroke-width="1.70"/>
<line x1="0.0" y1="0.9" x2="8.0" y2="0.9" stroke="#111" stroke-width="1.70"/>
</g>
<g transform="matrix(-1,0,0,1,626.00,313.90)">
<line x1="0.8" y1="19.5" x2="49.5" y2="19.5" stroke="#55655c" stroke-width="0.45"/>
<rect x="0.6" y="0.6" width="16.4" height="18.9" fill="none" stroke="#55655c" stroke-width="0.45"/>
<line x1="8.5" y1="0.6" x2="8.5" y2="19.5" stroke="#55655c" stroke-width="0.45"/>
<rect x="32.1" y="19.5" width="9.5" height="22.5" fill="none" stroke="#55655c" stroke-width="0.45"/>
<rect x="41.6" y="19.5" width="7.8" height="22.5" fill="none" stroke="#55655c" stroke-width="0.45"/>
<line x1="32.1" y1="31.0" x2="49.4" y2="31.0" stroke="#55655c" stroke-width="0.45"/>
<line x1="21.4" y1="44.0" x2="21.4" y2="66.8" stroke="#55655c" stroke-width="0.45"/>
<line x1="0.8" y1="44.0" x2="12.0" y2="44.0" stroke="#55655c" stroke-width="0.45"/>
<line x1="21.4" y1="19.5" x2="21.4" y2="30.0" stroke="#55655c" stroke-width="0.45"/>
<line x1="27.6" y1="42.0" x2="41.6" y2="42.0" stroke="#55655c" stroke-width="0.45"/>
<rect x="26.6" y="8.0" width="9.0" height="11.5" fill="none" stroke="#55655c" stroke-width="0.45"/>
<path d="M17.0,19.5 L21.5,19.5 A4.5,4.5 0 0 1 17.0,24.0" fill="none" stroke="#55655c" stroke-width="0.4"/>
<path d="M21.4,44.0 L16.9,44.0 A4.5,4.5 0 0 1 21.4,39.5" fill="none" stroke="#55655c" stroke-width="0.4"/>
<path d="M32.1,42.0 L32.1,46.0 A4.0,4.0 0 0 1 28.1,42.0" fill="none" stroke="#55655c" stroke-width="0.4"/>
<path d="M32.1,25.0 L32.1,21.5 A3.5,3.5 0 0 1 35.6,25.0" fill="none" stroke="#55655c" stroke-width="0.4"/>
<path d="M49.0,25.0 L45.5,25.0 A3.5,3.5 0 0 1 49.0,21.5" fill="none" stroke="#55655c" stroke-width="0.4"/>
<path d="M26.6,8.0 L26.6,4.0 A4.0,4.0 0 0 1 30.6,8.0" fill="none" stroke="#55655c" stroke-width="0.4"/>
<line x1="32.1" y1="26.0" x2="39.6" y2="26.0" stroke="#55655c" stroke-width="0.45"/>
<line x1="2.0" y1="23.0" x2="14.0" y2="23.0" stroke="#55655c" stroke-width="0.45"/>
<rect x="42.6" y="2.0" width="6.4" height="8.0" fill="none" stroke="#55655c" stroke-width="0.45"/>
<path d="M49.0,10.0 L49.0,14.0 A4.0,4.0 0 0 1 45.0,10.0" fill="none" stroke="#55655c" stroke-width="0.4"/>
<line x1="0.8" y1="49.8" x2="0.8" y2="66.8" stroke="#111" stroke-width="1.70"/>
<line x1="40.8" y1="42.5" x2="40.8" y2="66.8" stroke="#111" stroke-width="1.70"/>
<line x1="40.6" y1="0.9" x2="50.0" y2="0.9" stroke="#111" stroke-width="1.70"/>
<line x1="0.0" y1="0.9" x2="8.0" y2="0.9" stroke="#111" stroke-width="1.70"/>
</g>
<line x1="350.5" y1="16.2" x2="368.5" y2="16.2" stroke="#111" stroke-width="1.50"/>
<line x1="413.7" y1="15.7" x2="413.7" y2="33.8" stroke="#111" stroke-width="1.50"/>
<line x1="344.8" y1="39.8" x2="362.8" y2="39.8" stroke="#111" stroke-width="1.50"/>
<line x1="344.8" y1="77.5" x2="362.8" y2="77.5" stroke="#111" stroke-width="1.50"/>
<line x1="345.4" y1="101.6" x2="362.7" y2="101.6" stroke="#111" stroke-width="1.50"/>
<line x1="413.7" y1="75.6" x2="413.7" y2="93.6" stroke="#111" stroke-width="1.50"/>
<line x1="362.8" y1="40.4" x2="414.0" y2="40.4" stroke="#55655c" stroke-width="0.45"/>
<rect x="376.0" y="15.7" width="14.4" height="13.3" fill="none" stroke="#55655c" stroke-width="0.45"/>
<line x1="377.0" y1="15.7" x2="377.0" y2="29.0" stroke="#55655c" stroke-width="0.45"/>
<line x1="390.4" y1="15.7" x2="390.4" y2="40.4" stroke="#55655c" stroke-width="0.45"/>
<line x1="359.0" y1="43.3" x2="359.0" y2="74.6" stroke="#3f4a44" stroke-width="1.10"/>
<line x1="362.8" y1="77.5" x2="414.0" y2="77.5" stroke="#55655c" stroke-width="0.45"/>
<rect x="389.4" y="77.5" width="13.3" height="24.0" fill="none" stroke="#55655c" stroke-width="0.45"/>
<line x1="402.7" y1="77.5" x2="402.7" y2="101.5" stroke="#55655c" stroke-width="0.45"/>
<line x1="395.5" y1="85.0" x2="414.0" y2="85.0" stroke="#55655c" stroke-width="0.45"/>
<rect x="392.0" y="88.0" width="8.0" height="8.0" fill="none" stroke="#55655c" stroke-width="0.45"/>
<path d="M383.5,29.0 L388.5,29.0 A5.0,5.0 0 0 1 383.5,34.0" fill="none" stroke="#55655c" stroke-width="0.4"/>
<path d="M390.4,40.4 L390.4,45.4 A5.0,5.0 0 0 1 385.4,40.4" fill="none" stroke="#55655c" stroke-width="0.4"/>
<path d="M384.0,77.5 L384.0,72.5 A5.0,5.0 0 0 1 389.0,77.5" fill="none" stroke="#55655c" stroke-width="0.4"/>
<path d="M414.0,62.0 L414.0,68.0 A6.0,6.0 0 0 1 408.0,62.0" fill="none" stroke="#55655c" stroke-width="0.4"/>
<line x1="344.8" y1="15.4" x2="414.6" y2="15.4" stroke="#55655c" stroke-width="0.60"/>
<line x1="344.8" y1="15.4" x2="344.8" y2="101.5" stroke="#55655c" stroke-width="0.60"/>
<line x1="426.2" y1="28.3" x2="426.2" y2="46.5" stroke="#111" stroke-width="1.70"/>
<line x1="461.0" y1="28.9" x2="479.0" y2="28.9" stroke="#111" stroke-width="1.70"/>
<line x1="474.0" y1="50.9" x2="484.4" y2="50.9" stroke="#111" stroke-width="1.70"/>
<line x1="474.0" y1="51.0" x2="474.0" y2="70.0" stroke="#3f4a34" stroke-width="1.00"/>
<line x1="426.0" y1="36.0" x2="441.0" y2="36.0" stroke="#55655c" stroke-width="0.45"/>
<rect x="441.0" y="29.6" width="10.5" height="19.6" fill="none" stroke="#55655c" stroke-width="0.45"/>
<line x1="452.0" y1="28.3" x2="452.0" y2="49.2" stroke="#55655c" stroke-width="0.45"/>
<line x1="441.0" y1="49.2" x2="474.0" y2="49.2" stroke="#55655c" stroke-width="0.45"/>
<line x1="456.0" y1="70.0" x2="484.7" y2="70.0" stroke="#55655c" stroke-width="0.45"/>
<line x1="454.5" y1="72.0" x2="454.5" y2="90.0" stroke="#55655c" stroke-width="0.45"/>
<rect x="426.0" y="69.0" width="11.0" height="21.0" fill="none" stroke="#55655c" stroke-width="0.45"/>
<line x1="426.0" y1="78.0" x2="437.0" y2="78.0" stroke="#55655c" stroke-width="0.45"/>
<rect x="429.0" y="80.0" width="6.0" height="9.0" fill="none" stroke="#55655c" stroke-width="0.45"/>
<line x1="437.0" y1="69.0" x2="442.0" y2="69.0" stroke="#55655c" stroke-width="0.45"/>
<line x1="443.0" y1="36.0" x2="443.0" y2="49.0" stroke="#55655c" stroke-width="0.45"/>
<path d="M441.0,49.2 L441.0,44.2 A5.0,5.0 0 0 1 446.0,49.2" fill="none" stroke="#55655c" stroke-width="0.4"/>
<path d="M426.0,70.0 L426.0,64.0 A6.0,6.0 0 0 1 432.0,70.0" fill="none" stroke="#55655c" stroke-width="0.4"/>
<path d="M456.0,70.0 L456.0,75.0 A5.0,5.0 0 0 1 451.0,70.0" fill="none" stroke="#55655c" stroke-width="0.4"/>
<path d="M452.0,40.0 L452.0,44.0 A4.0,4.0 0 0 1 448.0,40.0" fill="none" stroke="#55655c" stroke-width="0.4"/>
<line x1="425.2" y1="28.3" x2="484.7" y2="28.3" stroke="#8b8b70" stroke-width="0.60"/>
<line x1="484.7" y1="28.3" x2="484.7" y2="90.0" stroke="#8b8b70" stroke-width="0.60"/>
<line x1="617.8" y1="236.4" x2="617.8" y2="251.2" stroke="#111" stroke-width="1.70"/>
<line x1="617.8" y1="285.3" x2="617.8" y2="303.0" stroke="#111" stroke-width="1.70"/>
<line x1="660.8" y1="236.4" x2="660.8" y2="254.2" stroke="#111" stroke-width="1.70"/>
<line x1="684.0" y1="236.4" x2="684.0" y2="254.0" stroke="#111" stroke-width="1.70"/>
<line x1="666.8" y1="302.8" x2="684.5" y2="302.8" stroke="#111" stroke-width="1.70"/>
<line x1="641.6" y1="236.4" x2="641.6" y2="269.7" stroke="#55655c" stroke-width="0.45"/>
<line x1="658.6" y1="258.6" x2="658.6" y2="303.0" stroke="#55655c" stroke-width="0.45"/>
<line x1="620.0" y1="246.8" x2="638.6" y2="246.8" stroke="#55553f" stroke-width="1.00"/>
<line x1="658.6" y1="258.6" x2="684.5" y2="258.6" stroke="#55655c" stroke-width="0.45"/>
<rect x="669.7" y="259.4" width="7.0" height="9.0" fill="none" stroke="#55655c" stroke-width="0.45"/>
<rect x="676.7" y="259.4" width="7.8" height="9.0" fill="none" stroke="#55655c" stroke-width="0.45"/>
<rect x="671.0" y="270.0" width="13.5" height="12.3" fill="none" stroke="#55655c" stroke-width="0.45"/>
<line x1="669.7" y1="282.3" x2="684.5" y2="282.3" stroke="#55655c" stroke-width="0.45"/>
<rect x="649.7" y="288.0" width="5.5" height="15.5" fill="none" stroke="#55655c" stroke-width="0.45"/>
<rect x="655.2" y="295.0" width="5.6" height="8.5" fill="none" stroke="#55655c" stroke-width="0.45"/>
<line x1="641.6" y1="269.7" x2="649.0" y2="269.7" stroke="#55655c" stroke-width="0.45"/>
<line x1="650.5" y1="288.0" x2="650.5" y2="303.5" stroke="#55655c" stroke-width="0.45"/>
<path d="M661.0,268.0 L661.0,273.0 A5.0,5.0 0 0 1 656.0,268.0" fill="none" stroke="#55655c" stroke-width="0.4"/>
<path d="M666.0,282.3 L666.0,277.3 A5.0,5.0 0 0 1 671.0,282.3" fill="none" stroke="#55655c" stroke-width="0.4"/>
<path d="M617.2,303.5 L617.2,297.5 A6.0,6.0 0 0 1 623.2,303.5" fill="none" stroke="#55655c" stroke-width="0.4"/>
<path d="M676.0,262.0 L680.0,262.0 A4.0,4.0 0 0 1 676.0,266.0" fill="none" stroke="#55655c" stroke-width="0.4"/>
<path d="M641.6,262.0 L645.6,262.0 A4.0,4.0 0 0 1 641.6,266.0" fill="none" stroke="#55655c" stroke-width="0.4"/>
<line x1="617.2" y1="236.2" x2="684.5" y2="236.2" stroke="#8b8b70" stroke-width="0.60"/>
<line x1="684.5" y1="236.2" x2="684.5" y2="303.5" stroke="#8b8b70" stroke-width="0.60"/>
<line x1="626.8" y1="314.0" x2="626.8" y2="331.0" stroke="#111" stroke-width="1.70"/>
<line x1="626.8" y1="363.0" x2="626.8" y2="380.5" stroke="#111" stroke-width="1.70"/>
<line x1="675.5" y1="314.5" x2="693.4" y2="314.5" stroke="#111" stroke-width="1.70"/>
<line x1="670.2" y1="363.0" x2="670.2" y2="380.5" stroke="#111" stroke-width="1.70"/>
<line x1="692.9" y1="363.0" x2="692.9" y2="380.5" stroke="#111" stroke-width="1.70"/>
<rect x="658.8" y="315.0" width="11.4" height="19.0" fill="none" stroke="#55655c" stroke-width="0.45"/>
<line x1="658.8" y1="322.0" x2="670.2" y2="322.0" stroke="#55655c" stroke-width="0.45"/>
<line x1="650.4" y1="356.0" x2="650.4" y2="380.5" stroke="#55655c" stroke-width="0.45"/>
<line x1="650.4" y1="356.0" x2="670.2" y2="356.0" stroke="#55655c" stroke-width="0.45"/>
<line x1="670.2" y1="334.0" x2="670.2" y2="356.0" stroke="#55655c" stroke-width="0.45"/>
<rect x="676.0" y="333.0" width="8.5" height="11.5" fill="none" stroke="#55655c" stroke-width="0.45"/>
<rect x="684.5" y="333.0" width="9.0" height="8.0" fill="none" stroke="#55655c" stroke-width="0.45"/>
<rect x="678.0" y="344.5" width="15.5" height="13.2" fill="none" stroke="#55655c" stroke-width="0.45"/>
<line x1="670.2" y1="334.0" x2="693.6" y2="334.0" stroke="#55655c" stroke-width="0.45"/>
<line x1="629.0" y1="369.8" x2="649.0" y2="369.8" stroke="#55553f" stroke-width="1.00"/>
<rect x="628.0" y="372.0" width="21.0" height="8.0" fill="none" stroke="#8b8b70" stroke-width="0.45"/>
<path d="M626.0,314.0 L634.0,314.0 A8.0,8.0 0 0 1 626.0,322.0" fill="none" stroke="#55655c" stroke-width="0.4"/>
<path d="M670.2,328.0 L670.2,333.0 A5.0,5.0 0 0 1 665.2,328.0" fill="none" stroke="#55655c" stroke-width="0.4"/>
<path d="M664.0,345.0 L664.0,340.0 A5.0,5.0 0 0 1 669.0,345.0" fill="none" stroke="#55655c" stroke-width="0.4"/>
<path d="M678.0,350.0 L678.0,355.0 A5.0,5.0 0 0 1 673.0,350.0" fill="none" stroke="#55655c" stroke-width="0.4"/>
<path d="M658.8,334.0 L662.8,334.0 A4.0,4.0 0 0 1 658.8,338.0" fill="none" stroke="#55655c" stroke-width="0.4"/>
<line x1="626.0" y1="380.5" x2="693.6" y2="380.5" stroke="#8b8b70" stroke-width="0.60"/>
<line x1="693.6" y1="313.9" x2="693.6" y2="380.5" stroke="#8b8b70" stroke-width="0.60"/>
<g transform="translate(56.2,366.2) rotate(-34)">
<g transform="matrix(1,0,0,-1,85.00,65.00)">
<line x1="0.8" y1="19.5" x2="50.5" y2="19.5" stroke="#55655c" stroke-width="0.45"/>
<rect x="0.6" y="0.6" width="16.4" height="18.9" fill="none" stroke="#55655c" stroke-width="0.45"/>
<line x1="8.5" y1="0.6" x2="8.5" y2="19.5" stroke="#55655c" stroke-width="0.45"/>
<rect x="32.5" y="19.5" width="9.5" height="22.5" fill="none" stroke="#55655c" stroke-width="0.45"/>
<rect x="42.0" y="19.5" width="8.4" height="22.5" fill="none" stroke="#55655c" stroke-width="0.45"/>
<line x1="32.5" y1="31.0" x2="50.4" y2="31.0" stroke="#55655c" stroke-width="0.45"/>
<line x1="21.4" y1="44.0" x2="21.4" y2="65.0" stroke="#55655c" stroke-width="0.45"/>
<line x1="0.8" y1="44.0" x2="12.0" y2="44.0" stroke="#55655c" stroke-width="0.45"/>
<line x1="21.4" y1="19.5" x2="21.4" y2="30.0" stroke="#55655c" stroke-width="0.45"/>
<line x1="28.0" y1="42.0" x2="42.0" y2="42.0" stroke="#55655c" stroke-width="0.45"/>
<rect x="27.0" y="8.0" width="9.0" height="11.5" fill="none" stroke="#55655c" stroke-width="0.45"/>
<path d="M17.0,19.5 L21.5,19.5 A4.5,4.5 0 0 1 17.0,24.0" fill="none" stroke="#55655c" stroke-width="0.4"/>
<path d="M21.4,44.0 L16.9,44.0 A4.5,4.5 0 0 1 21.4,39.5" fill="none" stroke="#55655c" stroke-width="0.4"/>
<path d="M32.5,42.0 L32.5,46.0 A4.0,4.0 0 0 1 28.5,42.0" fill="none" stroke="#55655c" stroke-width="0.4"/>
<path d="M32.5,25.0 L32.5,21.5 A3.5,3.5 0 0 1 36.0,25.0" fill="none" stroke="#55655c" stroke-width="0.4"/>
<path d="M50.0,25.0 L46.5,25.0 A3.5,3.5 0 0 1 50.0,21.5" fill="none" stroke="#55655c" stroke-width="0.4"/>
<path d="M27.0,8.0 L27.0,4.0 A4.0,4.0 0 0 1 31.0,8.0" fill="none" stroke="#55655c" stroke-width="0.4"/>
<line x1="32.5" y1="26.0" x2="40.0" y2="26.0" stroke="#55655c" stroke-width="0.45"/>
<line x1="2.0" y1="23.0" x2="14.0" y2="23.0" stroke="#55655c" stroke-width="0.45"/>
<rect x="43.0" y="2.0" width="7.0" height="8.0" fill="none" stroke="#55655c" stroke-width="0.45"/>
<path d="M50.0,10.0 L50.0,14.0 A4.0,4.0 0 0 1 46.0,10.0" fill="none" stroke="#55655c" stroke-width="0.4"/>
<line x1="0.8" y1="48.0" x2="0.8" y2="65.0" stroke="#111" stroke-width="1.70"/>
<line x1="41.2" y1="42.5" x2="41.2" y2="65.0" stroke="#111" stroke-width="1.70"/>
<line x1="41.0" y1="0.9" x2="51.0" y2="0.9" stroke="#111" stroke-width="1.70"/>
<line x1="0.0" y1="0.9" x2="8.0" y2="0.9" stroke="#111" stroke-width="1.70"/>
</g>
<g transform="matrix(-1,0,0,-1,206.00,65.00)">
<line x1="0.8" y1="19.5" x2="48.5" y2="19.5" stroke="#55655c" stroke-width="0.45"/>
<rect x="0.6" y="0.6" width="16.4" height="18.9" fill="none" stroke="#55655c" stroke-width="0.45"/>
<line x1="8.5" y1="0.6" x2="8.5" y2="19.5" stroke="#55655c" stroke-width="0.45"/>
<rect x="31.5" y="19.5" width="9.5" height="22.5" fill="none" stroke="#55655c" stroke-width="0.45"/>
<rect x="41.0" y="19.5" width="7.4" height="22.5" fill="none" stroke="#55655c" stroke-width="0.45"/>
<line x1="31.5" y1="31.0" x2="48.4" y2="31.0" stroke="#55655c" stroke-width="0.45"/>
<line x1="21.4" y1="44.0" x2="21.4" y2="65.0" stroke="#55655c" stroke-width="0.45"/>
<line x1="0.8" y1="44.0" x2="12.0" y2="44.0" stroke="#55655c" stroke-width="0.45"/>
<line x1="21.4" y1="19.5" x2="21.4" y2="30.0" stroke="#55655c" stroke-width="0.45"/>
<line x1="27.0" y1="42.0" x2="41.0" y2="42.0" stroke="#55655c" stroke-width="0.45"/>
<rect x="26.0" y="8.0" width="9.0" height="11.5" fill="none" stroke="#55655c" stroke-width="0.45"/>
<path d="M17.0,19.5 L21.5,19.5 A4.5,4.5 0 0 1 17.0,24.0" fill="none" stroke="#55655c" stroke-width="0.4"/>
<path d="M21.4,44.0 L16.9,44.0 A4.5,4.5 0 0 1 21.4,39.5" fill="none" stroke="#55655c" stroke-width="0.4"/>
<path d="M31.5,42.0 L31.5,46.0 A4.0,4.0 0 0 1 27.5,42.0" fill="none" stroke="#55655c" stroke-width="0.4"/>
<path d="M31.5,25.0 L31.5,21.5 A3.5,3.5 0 0 1 35.0,25.0" fill="none" stroke="#55655c" stroke-width="0.4"/>
<path d="M48.0,25.0 L44.5,25.0 A3.5,3.5 0 0 1 48.0,21.5" fill="none" stroke="#55655c" stroke-width="0.4"/>
<path d="M26.0,8.0 L26.0,4.0 A4.0,4.0 0 0 1 30.0,8.0" fill="none" stroke="#55655c" stroke-width="0.4"/>
<line x1="31.5" y1="26.0" x2="39.0" y2="26.0" stroke="#55655c" stroke-width="0.45"/>
<line x1="2.0" y1="23.0" x2="14.0" y2="23.0" stroke="#55655c" stroke-width="0.45"/>
<rect x="42.0" y="2.0" width="6.0" height="8.0" fill="none" stroke="#55655c" stroke-width="0.45"/>
<path d="M48.0,10.0 L48.0,14.0 A4.0,4.0 0 0 1 44.0,10.0" fill="none" stroke="#55655c" stroke-width="0.4"/>
<line x1="0.8" y1="48.0" x2="0.8" y2="65.0" stroke="#111" stroke-width="1.70"/>
<line x1="40.2" y1="42.5" x2="40.2" y2="65.0" stroke="#111" stroke-width="1.70"/>
<line x1="40.0" y1="0.9" x2="49.0" y2="0.9" stroke="#111" stroke-width="1.70"/>
<line x1="0.0" y1="0.9" x2="8.0" y2="0.9" stroke="#111" stroke-width="1.70"/>
</g>
<g transform="matrix(1,0,0,1,63.00,78.00)">
<line x1="0.8" y1="19.5" x2="51.0" y2="19.5" stroke="#55655c" stroke-width="0.45"/>
<rect x="0.6" y="0.6" width="16.4" height="18.9" fill="none" stroke="#55655c" stroke-width="0.45"/>
<line x1="8.5" y1="0.6" x2="8.5" y2="19.5" stroke="#55655c" stroke-width="0.45"/>
<rect x="33.5" y="19.5" width="9.5" height="22.5" fill="none" stroke="#55655c" stroke-width="0.45"/>
<rect x="43.0" y="19.5" width="7.9" height="22.5" fill="none" stroke="#55655c" stroke-width="0.45"/>
<line x1="33.5" y1="31.0" x2="50.9" y2="31.0" stroke="#55655c" stroke-width="0.45"/>
<line x1="21.4" y1="44.0" x2="21.4" y2="67.5" stroke="#55655c" stroke-width="0.45"/>
<line x1="0.8" y1="44.0" x2="12.0" y2="44.0" stroke="#55655c" stroke-width="0.45"/>
<line x1="21.4" y1="19.5" x2="21.4" y2="30.0" stroke="#55655c" stroke-width="0.45"/>
<line x1="29.0" y1="42.0" x2="43.0" y2="42.0" stroke="#55655c" stroke-width="0.45"/>
<rect x="28.0" y="8.0" width="9.0" height="11.5" fill="none" stroke="#55655c" stroke-width="0.45"/>
<path d="M17.0,19.5 L21.5,19.5 A4.5,4.5 0 0 1 17.0,24.0" fill="none" stroke="#55655c" stroke-width="0.4"/>
<path d="M21.4,44.0 L16.9,44.0 A4.5,4.5 0 0 1 21.4,39.5" fill="none" stroke="#55655c" stroke-width="0.4"/>
<path d="M33.5,42.0 L33.5,46.0 A4.0,4.0 0 0 1 29.5,42.0" fill="none" stroke="#55655c" stroke-width="0.4"/>
<path d="M33.5,25.0 L33.5,21.5 A3.5,3.5 0 0 1 37.0,25.0" fill="none" stroke="#55655c" stroke-width="0.4"/>
<path d="M50.5,25.0 L47.0,25.0 A3.5,3.5 0 0 1 50.5,21.5" fill="none" stroke="#55655c" stroke-width="0.4"/>
<path d="M28.0,8.0 L28.0,4.0 A4.0,4.0 0 0 1 32.0,8.0" fill="none" stroke="#55655c" stroke-width="0.4"/>
<line x1="33.5" y1="26.0" x2="41.0" y2="26.0" stroke="#55655c" stroke-width="0.45"/>
<line x1="2.0" y1="23.0" x2="14.0" y2="23.0" stroke="#55655c" stroke-width="0.45"/>
<rect x="44.0" y="2.0" width="6.5" height="8.0" fill="none" stroke="#55655c" stroke-width="0.45"/>
<path d="M50.5,10.0 L50.5,14.0 A4.0,4.0 0 0 1 46.5,10.0" fill="none" stroke="#55655c" stroke-width="0.4"/>
<line x1="0.8" y1="50.5" x2="0.8" y2="67.5" stroke="#111" stroke-width="1.70"/>
<line x1="42.2" y1="42.5" x2="42.2" y2="67.5" stroke="#111" stroke-width="1.70"/>
<line x1="42.0" y1="0.9" x2="51.5" y2="0.9" stroke="#111" stroke-width="1.70"/>
<line x1="0.0" y1="0.9" x2="8.0" y2="0.9" stroke="#111" stroke-width="1.70"/>
</g>
<g transform="matrix(-1,0,0,1,165.00,78.00)">
<line x1="0.8" y1="19.5" x2="50.0" y2="19.5" stroke="#55655c" stroke-width="0.45"/>
<rect x="0.6" y="0.6" width="16.4" height="18.9" fill="none" stroke="#55655c" stroke-width="0.45"/>
<line x1="8.5" y1="0.6" x2="8.5" y2="19.5" stroke="#55655c" stroke-width="0.45"/>
<rect x="32.5" y="19.5" width="9.5" height="22.5" fill="none" stroke="#55655c" stroke-width="0.45"/>
<rect x="42.0" y="19.5" width="7.9" height="22.5" fill="none" stroke="#55655c" stroke-width="0.45"/>
<line x1="32.5" y1="31.0" x2="49.9" y2="31.0" stroke="#55655c" stroke-width="0.45"/>
<line x1="21.4" y1="44.0" x2="21.4" y2="67.5" stroke="#55655c" stroke-width="0.45"/>
<line x1="0.8" y1="44.0" x2="12.0" y2="44.0" stroke="#55655c" stroke-width="0.45"/>
<line x1="21.4" y1="19.5" x2="21.4" y2="30.0" stroke="#55655c" stroke-width="0.45"/>
<line x1="28.0" y1="42.0" x2="42.0" y2="42.0" stroke="#55655c" stroke-width="0.45"/>
<rect x="27.0" y="8.0" width="9.0" height="11.5" fill="none" stroke="#55655c" stroke-width="0.45"/>
<path d="M17.0,19.5 L21.5,19.5 A4.5,4.5 0 0 1 17.0,24.0" fill="none" stroke="#55655c" stroke-width="0.4"/>
<path d="M21.4,44.0 L16.9,44.0 A4.5,4.5 0 0 1 21.4,39.5" fill="none" stroke="#55655c" stroke-width="0.4"/>
<path d="M32.5,42.0 L32.5,46.0 A4.0,4.0 0 0 1 28.5,42.0" fill="none" stroke="#55655c" stroke-width="0.4"/>
<path d="M32.5,25.0 L32.5,21.5 A3.5,3.5 0 0 1 36.0,25.0" fill="none" stroke="#55655c" stroke-width="0.4"/>
<path d="M49.5,25.0 L46.0,25.0 A3.5,3.5 0 0 1 49.5,21.5" fill="none" stroke="#55655c" stroke-width="0.4"/>
<path d="M27.0,8.0 L27.0,4.0 A4.0,4.0 0 0 1 31.0,8.0" fill="none" stroke="#55655c" stroke-width="0.4"/>
<line x1="32.5" y1="26.0" x2="40.0" y2="26.0" stroke="#55655c" stroke-width="0.45"/>
<line x1="2.0" y1="23.0" x2="14.0" y2="23.0" stroke="#55655c" stroke-width="0.45"/>
<rect x="43.0" y="2.0" width="6.5" height="8.0" fill="none" stroke="#55655c" stroke-width="0.45"/>
<path d="M49.5,10.0 L49.5,14.0 A4.0,4.0 0 0 1 45.5,10.0" fill="none" stroke="#55655c" stroke-width="0.4"/>
<line x1="0.8" y1="50.5" x2="0.8" y2="67.5" stroke="#111" stroke-width="1.70"/>
<line x1="41.2" y1="42.5" x2="41.2" y2="67.5" stroke="#111" stroke-width="1.70"/>
<line x1="41.0" y1="0.9" x2="50.5" y2="0.9" stroke="#111" stroke-width="1.70"/>
<line x1="0.0" y1="0.9" x2="8.0" y2="0.9" stroke="#111" stroke-width="1.70"/>
</g>
<g transform="matrix(1,0,0,1,165.00,78.00)">
<line x1="0.8" y1="19.5" x2="49.0" y2="19.5" stroke="#55655c" stroke-width="0.45"/>
<rect x="0.6" y="0.6" width="16.4" height="18.9" fill="none" stroke="#55655c" stroke-width="0.45"/>
<line x1="8.5" y1="0.6" x2="8.5" y2="19.5" stroke="#55655c" stroke-width="0.45"/>
<rect x="31.5" y="19.5" width="9.5" height="22.5" fill="none" stroke="#55655c" stroke-width="0.45"/>
<rect x="41.0" y="19.5" width="7.9" height="22.5" fill="none" stroke="#55655c" stroke-width="0.45"/>
<line x1="31.5" y1="31.0" x2="48.9" y2="31.0" stroke="#55655c" stroke-width="0.45"/>
<line x1="21.4" y1="44.0" x2="21.4" y2="67.5" stroke="#55655c" stroke-width="0.45"/>
<line x1="0.8" y1="44.0" x2="12.0" y2="44.0" stroke="#55655c" stroke-width="0.45"/>
<line x1="21.4" y1="19.5" x2="21.4" y2="30.0" stroke="#55655c" stroke-width="0.45"/>
<line x1="27.0" y1="42.0" x2="41.0" y2="42.0" stroke="#55655c" stroke-width="0.45"/>
<rect x="26.0" y="8.0" width="9.0" height="11.5" fill="none" stroke="#55655c" stroke-width="0.45"/>
<path d="M17.0,19.5 L21.5,19.5 A4.5,4.5 0 0 1 17.0,24.0" fill="none" stroke="#55655c" stroke-width="0.4"/>
<path d="M21.4,44.0 L16.9,44.0 A4.5,4.5 0 0 1 21.4,39.5" fill="none" stroke="#55655c" stroke-width="0.4"/>
<path d="M31.5,42.0 L31.5,46.0 A4.0,4.0 0 0 1 27.5,42.0" fill="none" stroke="#55655c" stroke-width="0.4"/>
<path d="M31.5,25.0 L31.5,21.5 A3.5,3.5 0 0 1 35.0,25.0" fill="none" stroke="#55655c" stroke-width="0.4"/>
<path d="M48.5,25.0 L45.0,25.0 A3.5,3.5 0 0 1 48.5,21.5" fill="none" stroke="#55655c" stroke-width="0.4"/>
<path d="M26.0,8.0 L26.0,4.0 A4.0,4.0 0 0 1 30.0,8.0" fill="none" stroke="#55655c" stroke-width="0.4"/>
<line x1="31.5" y1="26.0" x2="39.0" y2="26.0" stroke="#55655c" stroke-width="0.45"/>
<line x1="2.0" y1="23.0" x2="14.0" y2="23.0" stroke="#55655c" stroke-width="0.45"/>
<rect x="42.0" y="2.0" width="6.5" height="8.0" fill="none" stroke="#55655c" stroke-width="0.45"/>
<path d="M48.5,10.0 L48.5,14.0 A4.0,4.0 0 0 1 44.5,10.0" fill="none" stroke="#55655c" stroke-width="0.4"/>
<line x1="0.8" y1="50.5" x2="0.8" y2="67.5" stroke="#111" stroke-width="1.70"/>
<line x1="40.2" y1="42.5" x2="40.2" y2="67.5" stroke="#111" stroke-width="1.70"/>
<line x1="40.0" y1="0.9" x2="49.5" y2="0.9" stroke="#111" stroke-width="1.70"/>
<line x1="0.0" y1="0.9" x2="8.0" y2="0.9" stroke="#111" stroke-width="1.70"/>
</g>
<g transform="matrix(-1,0,0,1,264.00,78.00)">
<line x1="0.8" y1="19.5" x2="49.0" y2="19.5" stroke="#55655c" stroke-width="0.45"/>
<rect x="0.6" y="0.6" width="16.4" height="18.9" fill="none" stroke="#55655c" stroke-width="0.45"/>
<line x1="8.5" y1="0.6" x2="8.5" y2="19.5" stroke="#55655c" stroke-width="0.45"/>
<rect x="31.5" y="19.5" width="9.5" height="22.5" fill="none" stroke="#55655c" stroke-width="0.45"/>
<rect x="41.0" y="19.5" width="7.9" height="22.5" fill="none" stroke="#55655c" stroke-width="0.45"/>
<line x1="31.5" y1="31.0" x2="48.9" y2="31.0" stroke="#55655c" stroke-width="0.45"/>
<line x1="21.4" y1="44.0" x2="21.4" y2="64.0" stroke="#55655c" stroke-width="0.45"/>
<line x1="0.8" y1="44.0" x2="12.0" y2="44.0" stroke="#55655c" stroke-width="0.45"/>
<line x1="21.4" y1="19.5" x2="21.4" y2="30.0" stroke="#55655c" stroke-width="0.45"/>
<line x1="27.0" y1="42.0" x2="41.0" y2="42.0" stroke="#55655c" stroke-width="0.45"/>
<rect x="26.0" y="8.0" width="9.0" height="11.5" fill="none" stroke="#55655c" stroke-width="0.45"/>
<path d="M17.0,19.5 L21.5,19.5 A4.5,4.5 0 0 1 17.0,24.0" fill="none" stroke="#55655c" stroke-width="0.4"/>
<path d="M21.4,44.0 L16.9,44.0 A4.5,4.5 0 0 1 21.4,39.5" fill="none" stroke="#55655c" stroke-width="0.4"/>
<path d="M31.5,42.0 L31.5,46.0 A4.0,4.0 0 0 1 27.5,42.0" fill="none" stroke="#55655c" stroke-width="0.4"/>
<path d="M31.5,25.0 L31.5,21.5 A3.5,3.5 0 0 1 35.0,25.0" fill="none" stroke="#55655c" stroke-width="0.4"/>
<path d="M48.5,25.0 L45.0,25.0 A3.5,3.5 0 0 1 48.5,21.5" fill="none" stroke="#55655c" stroke-width="0.4"/>
<path d="M26.0,8.0 L26.0,4.0 A4.0,4.0 0 0 1 30.0,8.0" fill="none" stroke="#55655c" stroke-width="0.4"/>
<line x1="31.5" y1="26.0" x2="39.0" y2="26.0" stroke="#55655c" stroke-width="0.45"/>
<line x1="2.0" y1="23.0" x2="14.0" y2="23.0" stroke="#55655c" stroke-width="0.45"/>
<rect x="42.0" y="2.0" width="6.5" height="8.0" fill="none" stroke="#55655c" stroke-width="0.45"/>
<path d="M48.5,10.0 L48.5,14.0 A4.0,4.0 0 0 1 44.5,10.0" fill="none" stroke="#55655c" stroke-width="0.4"/>
<line x1="0.8" y1="47.0" x2="0.8" y2="64.0" stroke="#111" stroke-width="1.70"/>
<line x1="40.2" y1="42.5" x2="40.2" y2="64.0" stroke="#111" stroke-width="1.70"/>
<line x1="40.0" y1="0.9" x2="49.5" y2="0.9" stroke="#111" stroke-width="1.70"/>
<line x1="0.0" y1="0.9" x2="8.0" y2="0.9" stroke="#111" stroke-width="1.70"/>
</g>
<line x1="206.0" y1="-3.5" x2="206.0" y2="12.0" stroke="#111" stroke-width="1.50"/>
<line x1="230.4" y1="-3.8" x2="230.4" y2="12.0" stroke="#111" stroke-width="1.50"/>
<line x1="269.0" y1="-3.8" x2="269.0" y2="12.0" stroke="#111" stroke-width="1.50"/>
<line x1="293.5" y1="-3.5" x2="293.5" y2="10.0" stroke="#111" stroke-width="1.50"/>
<line x1="293.5" y1="50.0" x2="293.5" y2="63.0" stroke="#111" stroke-width="1.50"/>
<line x1="234.0" y1="9.0" x2="266.0" y2="9.0" stroke="#3f4a44" stroke-width="1.00"/>
<line x1="206.0" y1="25.0" x2="269.0" y2="25.0" stroke="#55655c" stroke-width="0.45"/>
<line x1="269.0" y1="-3.5" x2="269.0" y2="65.0" stroke="#55655c" stroke-width="0.45"/>
<line x1="250.0" y1="25.0" x2="250.0" y2="65.0" stroke="#55655c" stroke-width="0.45"/>
<line x1="230.4" y1="12.0" x2="230.4" y2="25.0" stroke="#55655c" stroke-width="0.45"/>
<rect x="272.0" y="35.0" width="10.0" height="14.0" fill="none" stroke="#55655c" stroke-width="0.45"/>
<rect x="282.0" y="35.0" width="11.0" height="10.0" fill="none" stroke="#55655c" stroke-width="0.45"/>
<rect x="255.0" y="45.0" width="12.0" height="14.0" fill="none" stroke="#55655c" stroke-width="0.45"/>
<line x1="269.0" y1="30.0" x2="293.5" y2="30.0" stroke="#55655c" stroke-width="0.45"/>
<path d="M269.0,30.0 L269.0,35.0 A5.0,5.0 0 0 1 264.0,30.0" fill="none" stroke="#55655c" stroke-width="0.4"/>
<path d="M250.0,40.0 L255.0,40.0 A5.0,5.0 0 0 1 250.0,45.0" fill="none" stroke="#55655c" stroke-width="0.4"/>
<path d="M272.0,49.0 L272.0,45.0 A4.0,4.0 0 0 1 276.0,49.0" fill="none" stroke="#55655c" stroke-width="0.4"/>
<path d="M255.0,45.0 L251.0,45.0 A4.0,4.0 0 0 1 255.0,41.0" fill="none" stroke="#55655c" stroke-width="0.4"/>
<line x1="275.0" y1="64.5" x2="293.5" y2="64.5" stroke="#111" stroke-width="1.50"/>
<line x1="206.0" y1="64.5" x2="215.0" y2="64.5" stroke="#111" stroke-width="1.50"/>
<line x1="85.0" y1="0.0" x2="85.0" y2="16.0" stroke="#111" stroke-width="1.50"/>
<line x1="61.5" y1="-0.2" x2="61.5" y2="16.0" stroke="#111" stroke-width="1.50"/>
<line x1="23.3" y1="-0.2" x2="23.3" y2="16.0" stroke="#111" stroke-width="1.50"/>
<line x1="0.3" y1="0.0" x2="0.3" y2="18.0" stroke="#111" stroke-width="1.50"/>
<line x1="0.3" y1="44.0" x2="0.3" y2="68.0" stroke="#111" stroke-width="1.50"/>
<line x1="26.0" y1="9.0" x2="58.0" y2="9.0" stroke="#3f4a44" stroke-width="1.00"/>
<line x1="23.3" y1="25.0" x2="85.0" y2="25.0" stroke="#55655c" stroke-width="0.45"/>
<line x1="23.3" y1="0.0" x2="23.3" y2="58.0" stroke="#55655c" stroke-width="0.45"/>
<line x1="42.0" y1="25.0" x2="42.0" y2="65.0" stroke="#55655c" stroke-width="0.45"/>
<line x1="61.5" y1="16.0" x2="61.5" y2="25.0" stroke="#55655c" stroke-width="0.45"/>
<rect x="9.0" y="35.0" width="10.0" height="14.0" fill="none" stroke="#55655c" stroke-width="0.45"/>
<rect x="0.5" y="35.0" width="9.0" height="10.0" fill="none" stroke="#55655c" stroke-width="0.45"/>
<rect x="26.0" y="45.0" width="12.0" height="14.0" fill="none" stroke="#55655c" stroke-width="0.45"/>
<line x1="0.5" y1="30.0" x2="23.3" y2="30.0" stroke="#55655c" stroke-width="0.45"/>
<path d="M23.3,30.0 L28.3,30.0 A5.0,5.0 0 0 1 23.3,35.0" fill="none" stroke="#55655c" stroke-width="0.4"/>
<path d="M42.0,40.0 L42.0,45.0 A5.0,5.0 0 0 1 37.0,40.0" fill="none" stroke="#55655c" stroke-width="0.4"/>
<path d="M19.0,49.0 L15.0,49.0 A4.0,4.0 0 0 1 19.0,45.0" fill="none" stroke="#55655c" stroke-width="0.4"/>
<path d="M38.0,45.0 L38.0,41.0 A4.0,4.0 0 0 1 42.0,45.0" fill="none" stroke="#55655c" stroke-width="0.4"/>
<line x1="29.0" y1="64.5" x2="40.0" y2="64.5" stroke="#111" stroke-width="1.50"/>
<line x1="76.0" y1="64.5" x2="85.0" y2="64.5" stroke="#111" stroke-width="1.50"/>
<line x1="0.0" y1="68.0" x2="13.0" y2="68.0" stroke="#111" stroke-width="1.50"/>
<line x1="0.3" y1="79.0" x2="0.3" y2="95.0" stroke="#111" stroke-width="1.50"/>
<line x1="0.3" y1="120.0" x2="0.3" y2="140.0" stroke="#111" stroke-width="1.50"/>
<line x1="63.0" y1="79.0" x2="63.0" y2="95.0" stroke="#111" stroke-width="1.50"/>
<line x1="40.0" y1="140.0" x2="40.0" y2="125.0" stroke="#111" stroke-width="1.50"/>
<line x1="20.0" y1="140.0" x2="35.0" y2="140.0" stroke="#111" stroke-width="1.50"/>
<line x1="0.0" y1="100.0" x2="30.0" y2="100.0" stroke="#55655c" stroke-width="0.45"/>
<line x1="30.0" y1="79.0" x2="30.0" y2="125.0" stroke="#55655c" stroke-width="0.45"/>
<line x1="30.0" y1="112.0" x2="63.0" y2="112.0" stroke="#55655c" stroke-width="0.45"/>
<line x1="45.0" y1="112.0" x2="45.0" y2="140.0" stroke="#55655c" stroke-width="0.45"/>
<rect x="5.0" y="102.0" width="10.0" height="12.0" fill="none" stroke="#55655c" stroke-width="0.45"/>
<rect x="15.0" y="102.0" width="10.0" height="8.0" fill="none" stroke="#55655c" stroke-width="0.45"/>
<rect x="33.0" y="82.0" width="12.0" height="12.0" fill="none" stroke="#55655c" stroke-width="0.45"/>
<rect x="47.0" y="82.0" width="12.0" height="10.0" fill="none" stroke="#55655c" stroke-width="0.45"/>
<line x1="30.0" y1="125.0" x2="63.0" y2="125.0" stroke="#55655c" stroke-width="0.45"/>
<path d="M30.0,100.0 L35.0,100.0 A5.0,5.0 0 0 1 30.0,105.0" fill="none" stroke="#55655c" stroke-width="0.4"/>
<path d="M45.0,112.0 L45.0,117.0 A5.0,5.0 0 0 1 40.0,112.0" fill="none" stroke="#55655c" stroke-width="0.4"/>
<path d="M33.0,94.0 L33.0,90.0 A4.0,4.0 0 0 1 37.0,94.0" fill="none" stroke="#55655c" stroke-width="0.4"/>
<path d="M15.0,110.0 L19.0,110.0 A4.0,4.0 0 0 1 15.0,114.0" fill="none" stroke="#55655c" stroke-width="0.4"/>
<line x1="0.0" y1="79.0" x2="63.0" y2="79.0" stroke="#8b8b70" stroke-width="0.60"/>
<line x1="0.0" y1="140.0" x2="63.0" y2="140.0" stroke="#8b8b70" stroke-width="0.60"/>
<line x1="0.0" y1="79.0" x2="0.0" y2="140.0" stroke="#8b8b70" stroke-width="0.60"/>
<line x1="138.0" y1="26.0" x2="155.0" y2="26.0" stroke="#777" stroke-width="0.35"/>
<line x1="138.0" y1="30.5" x2="155.0" y2="30.5" stroke="#777" stroke-width="0.35"/>
<line x1="138.0" y1="35.0" x2="155.0" y2="35.0" stroke="#777" stroke-width="0.35"/>
<line x1="138.0" y1="39.5" x2="155.0" y2="39.5" stroke="#777" stroke-width="0.35"/>
<line x1="138.0" y1="44.0" x2="155.0" y2="44.0" stroke="#777" stroke-width="0.35"/>
<line x1="138.0" y1="48.5" x2="155.0" y2="48.5" stroke="#777" stroke-width="0.35"/>
<line x1="138.0" y1="53.0" x2="155.0" y2="53.0" stroke="#777" stroke-width="0.35"/>
<line x1="138.0" y1="57.5" x2="155.0" y2="57.5" stroke="#777" stroke-width="0.35"/>
<rect x="144.0" y="27.0" width="5.0" height="30.0" fill="none" stroke="#666" stroke-width="0.50"/>
<rect x="138.0" y="55.0" width="17.0" height="9.0" fill="none" stroke="#777" stroke-width="0.40"/>
<line x1="264.0" y1="76.0" x2="264.0" y2="93.0" stroke="#111" stroke-width="1.60"/>
<line x1="266.0" y1="85.0" x2="283.0" y2="85.0" stroke="#666" stroke-width="0.40"/>
<rect x="268.0" y="80.0" width="8.0" height="5.0" fill="none" stroke="#777" stroke-width="0.40"/>
<line x1="276.0" y1="86.0" x2="280.0" y2="92.0" stroke="#555" stroke-width="0.40"/>
<polyline points="29,68 0,68 0,0 127,0 127,28 136,28" fill="none" stroke="#55655c" stroke-width="0.6"/>
<polyline points="157,25 165,25 165,0 206,0 206,-3.5 294,-3.5 294,65" fill="none" stroke="#55655c" stroke-width="0.6"/>
<polyline points="63,140 63,145.5 106,145.5 106,120 123,120 123,145.5 206,145.5 206,118 223,118 223,142 264,142 264,78" fill="none" stroke="#55655c" stroke-width="0.6"/>
</g>
<polyline points="347.6,101.5 347.6,143 374,143 374,161 347.6,161 347.6,202" fill="none" stroke="#55655c" stroke-width="0.6"/>
<polyline points="485,90 492.4,90 492.4,131 466,131 466,150 492.4,150 492.4,231.2 466.5,231.2 466.5,241.3" fill="none" stroke="#55655c" stroke-width="0.6"/>
<polyline points="516.4,303.5 516.4,236.2 558.4,236.2 558.4,263.2 576,263.2 576,236.2 617.2,236.2" fill="none" stroke="#55655c" stroke-width="0.6"/>
<polyline points="375.6,313.9 375.6,355.5 385.2,355.5 385.2,380.7 467.9,380.7 467.9,355.5 484.8,355.5 484.8,380.7 567.5,380.7 567.5,355.5 584.4,355.5 584.4,380.7 626,380.7" fill="none" stroke="#55655c" stroke-width="0.6"/>
<rect x="355.8" y="202.0" width="33.5" height="20.0" fill="#d3d3d3" />
<line x1="361.0" y1="205.0" x2="361.0" y2="219.0" stroke="#777" stroke-width="0.35"/>
<line x1="364.6" y1="205.0" x2="364.6" y2="219.0" stroke="#777" stroke-width="0.35"/>
<line x1="368.2" y1="205.0" x2="368.2" y2="219.0" stroke="#777" stroke-width="0.35"/>
<line x1="371.8" y1="205.0" x2="371.8" y2="219.0" stroke="#777" stroke-width="0.35"/>
<line x1="375.4" y1="205.0" x2="375.4" y2="219.0" stroke="#777" stroke-width="0.35"/>
<line x1="379.0" y1="205.0" x2="379.0" y2="219.0" stroke="#777" stroke-width="0.35"/>
<line x1="382.6" y1="205.0" x2="382.6" y2="219.0" stroke="#777" stroke-width="0.35"/>
<rect x="362.0" y="210.5" width="22.0" height="3.0" fill="none" stroke="#55655c" stroke-width="0.45"/>
<rect x="358.0" y="204.0" width="29.0" height="16.0" fill="none" stroke="#55655c" stroke-width="0.45"/>
<rect x="389.3" y="202.0" width="25.3" height="17.6" fill="#cfcfcf" />
<line x1="389.3" y1="212.0" x2="414.6" y2="212.0" stroke="#777" stroke-width="0.40"/>
<path d="M392.0,205.0 L397.0,205.0 A5.0,5.0 0 0 1 392.0,210.0" fill="none" stroke="#777" stroke-width="0.4"/>
<path d="M410.0,205.0 L410.0,210.0 A5.0,5.0 0 0 1 405.0,205.0" fill="none" stroke="#777" stroke-width="0.4"/>
<rect x="355.8" y="222.1" width="34.0" height="18.3" fill="#c9c9c9" stroke="#111" stroke-width="1.40"/>
<rect x="358.5" y="224.5" width="13.5" height="13.5" fill="#bdbdbd" stroke="#555" stroke-width="0.5"/>
<rect x="374.0" y="224.5" width="13.5" height="13.5" fill="#bdbdbd" stroke="#555" stroke-width="0.5"/>
<rect x="389.8" y="219.6" width="20.2" height="20.8" fill="#c9c9c9" stroke="#111" stroke-width="1.40"/>
<rect x="392.5" y="222.5" width="15.0" height="15.0" fill="#bdbdbd" stroke="#555" stroke-width="0.5"/>
<rect x="410.0" y="219.6" width="4.6" height="20.8" fill="#c4c4c4" stroke="#111" stroke-width="0.80"/>
<rect x="360.3" y="263.7" width="49.6" height="19.3" fill="#c9c9c9" stroke="#111" stroke-width="1.40"/>
<rect x="363.0" y="266.5" width="13.3" height="13.5" fill="#bdbdbd" stroke="#555" stroke-width="0.5"/>
<rect x="378.2" y="266.5" width="13.3" height="13.5" fill="#bdbdbd" stroke="#555" stroke-width="0.5"/>
<rect x="393.4" y="266.5" width="13.3" height="13.5" fill="#bdbdbd" stroke="#555" stroke-width="0.5"/>
<path d="M411,268 L416,273 L411,278 M424,268 L419,273 L424,278" fill="none" stroke="#444" stroke-width="0.5"/>
<line x1="426.0" y1="265.0" x2="426.0" y2="283.5" stroke="#111" stroke-width="1.40"/>
<rect x="425.5" y="282.0" width="22.4" height="21.6" fill="#c7c7c7" />
<line x1="428.0" y1="290.0" x2="441.0" y2="290.0" stroke="#444" stroke-width="0.50"/>
<line x1="428.0" y1="292.2" x2="441.0" y2="292.2" stroke="#444" stroke-width="0.50"/>
<line x1="428.0" y1="294.4" x2="441.0" y2="294.4" stroke="#444" stroke-width="0.50"/>
<line x1="428.0" y1="296.6" x2="441.0" y2="296.6" stroke="#444" stroke-width="0.50"/>
<line x1="428.0" y1="298.8" x2="441.0" y2="298.8" stroke="#444" stroke-width="0.50"/>
<line x1="428.0" y1="301.0" x2="441.0" y2="301.0" stroke="#444" stroke-width="0.50"/>
<rect x="427.0" y="284.0" width="18.0" height="4.0" fill="none" stroke="#55655c" stroke-width="0.45"/>
<path d="M428,300 L433,304 L438,300" fill="none" stroke="#333" stroke-width="0.6"/>
<line x1="447.9" y1="282.0" x2="447.9" y2="303.5" stroke="#111" stroke-width="1.50"/>
<rect x="448.6" y="282.0" width="37.4" height="21.6" fill="#cacaca" />
<rect x="452.0" y="285.0" width="28.0" height="15.0" fill="none" stroke="#55655c" stroke-width="0.45"/>
<rect x="457.0" y="291.0" width="15.0" height="2.8" fill="none" stroke="#55655c" stroke-width="0.45"/>
<line x1="455.0" y1="285.0" x2="455.0" y2="300.0" stroke="#777" stroke-width="0.30"/>
<line x1="459.0" y1="285.0" x2="459.0" y2="300.0" stroke="#777" stroke-width="0.30"/>
<line x1="463.0" y1="285.0" x2="463.0" y2="300.0" stroke="#777" stroke-width="0.30"/>
<line x1="467.0" y1="285.0" x2="467.0" y2="300.0" stroke="#777" stroke-width="0.30"/>
<line x1="471.0" y1="285.0" x2="471.0" y2="300.0" stroke="#777" stroke-width="0.30"/>
<line x1="475.0" y1="285.0" x2="475.0" y2="300.0" stroke="#777" stroke-width="0.30"/>
<line x1="486.6" y1="282.0" x2="486.6" y2="303.5" stroke="#111" stroke-width="1.50"/>
<line x1="425.5" y1="282.0" x2="486.0" y2="282.0" stroke="#666" stroke-width="0.50"/>
<line x1="425.2" y1="90.8" x2="442.0" y2="90.8" stroke="#111" stroke-width="1.60"/>
<line x1="375.6" y1="314.2" x2="392.0" y2="314.2" stroke="#111" stroke-width="1.60"/>
<line x1="376.3" y1="313.9" x2="376.3" y2="340.0" stroke="#111" stroke-width="1.60"/>
<line x1="416.8" y1="314.2" x2="435.0" y2="314.2" stroke="#111" stroke-width="1.60"/>
<line x1="465.8" y1="314.2" x2="485.4" y2="314.2" stroke="#111" stroke-width="1.60"/>
<line x1="517.0" y1="314.2" x2="535.0" y2="314.2" stroke="#111" stroke-width="1.60"/>
<line x1="566.0" y1="314.2" x2="586.0" y2="314.2" stroke="#111" stroke-width="1.60"/>
<line x1="620.0" y1="314.2" x2="640.0" y2="314.2" stroke="#111" stroke-width="1.60"/>
<path d="M392.0,312 l1.5,1.8 l1.5,-1.8" fill="none" stroke="#555" stroke-width="0.4"/>
<path d="M415.0,312 l1.5,1.8 l1.5,-1.8" fill="none" stroke="#555" stroke-width="0.4"/>
<path d="M440.0,312 l1.5,1.8 l1.5,-1.8" fill="none" stroke="#555" stroke-width="0.4"/>
<path d="M462.0,312 l1.5,1.8 l1.5,-1.8" fill="none" stroke="#555" stroke-width="0.4"/>
<path d="M490.0,312 l1.5,1.8 l1.5,-1.8" fill="none" stroke="#555" stroke-width="0.4"/>
<path d="M512.0,312 l1.5,1.8 l1.5,-1.8" fill="none" stroke="#555" stroke-width="0.4"/>
<path d="M540.0,312 l1.5,1.8 l1.5,-1.8" fill="none" stroke="#555" stroke-width="0.4"/>
<path d="M562.0,312 l1.5,1.8 l1.5,-1.8" fill="none" stroke="#555" stroke-width="0.4"/>
<path d="M590.0,312 l1.5,1.8 l1.5,-1.8" fill="none" stroke="#555" stroke-width="0.4"/>
<path d="M612.0,312 l1.5,1.8 l1.5,-1.8" fill="none" stroke="#555" stroke-width="0.4"/>
<g transform="translate(464.2,182.0) scale(1.00)" fill="#fff"><path d="M-8.00,11 L-6.00,11 L-4.35,5.50 L-6.35,5.50 Z"/><path d="M-8.00,11 L-3.80,11 L-3.40,9.6 L-7.60,9.6 Z"/><path d="M-3.40,11 L-1.40,11 L1.00,3.00 L-1.00,3.00 Z"/><path d="M-3.40,11 L0.60,11 L1.00,9.6 L-3.00,9.6 Z"/><path d="M0.90,11 L3.00,11 L6.30,0.00 L4.20,0.00 Z"/><path d="M4.60,11 L6.70,11 L10.00,0.00 L7.90,0.00 Z"/><path d="M2.40,6.2 L6.30,6.2 L6.70,4.8 L2.80,4.8 Z"/><text x="0" y="15.4" text-anchor="middle" font-family="Liberation Sans" font-weight="bold" font-size="3.6" textLength="29.5" lengthAdjust="spacingAndGlyphs">LOC PHAT HUNG</text><rect x="-10" y="16.6" width="20" height="0.35" fill="#fff" opacity="0.6"/></g>
<g transform="translate(275.2,232.6) scale(1.00)" fill="#fff"><path d="M-8.00,11 L-6.00,11 L-4.35,5.50 L-6.35,5.50 Z"/><path d="M-8.00,11 L-3.80,11 L-3.40,9.6 L-7.60,9.6 Z"/><path d="M-3.40,11 L-1.40,11 L1.00,3.00 L-1.00,3.00 Z"/><path d="M-3.40,11 L0.60,11 L1.00,9.6 L-3.00,9.6 Z"/><path d="M0.90,11 L3.00,11 L6.30,0.00 L4.20,0.00 Z"/><path d="M4.60,11 L6.70,11 L10.00,0.00 L7.90,0.00 Z"/><path d="M2.40,6.2 L6.30,6.2 L6.70,4.8 L2.80,4.8 Z"/><text x="0" y="15.4" text-anchor="middle" font-family="Liberation Sans" font-weight="bold" font-size="3.6" textLength="29.5" lengthAdjust="spacingAndGlyphs">LOC PHAT HUNG</text><rect x="-10" y="16.6" width="20" height="0.35" fill="#fff" opacity="0.6"/></g>
<g transform="translate(445.7,360.0) scale(1.00)" fill="#fff"><path d="M-8.00,11 L-6.00,11 L-4.35,5.50 L-6.35,5.50 Z"/><path d="M-8.00,11 L-3.80,11 L-3.40,9.6 L-7.60,9.6 Z"/><path d="M-3.40,11 L-1.40,11 L1.00,3.00 L-1.00,3.00 Z"/><path d="M-3.40,11 L0.60,11 L1.00,9.6 L-3.00,9.6 Z"/><path d="M0.90,11 L3.00,11 L6.30,0.00 L4.20,0.00 Z"/><path d="M4.60,11 L6.70,11 L10.00,0.00 L7.90,0.00 Z"/><path d="M2.40,6.2 L6.30,6.2 L6.70,4.8 L2.80,4.8 Z"/><text x="0" y="15.4" text-anchor="middle" font-family="Liberation Sans" font-weight="bold" font-size="3.6" textLength="29.5" lengthAdjust="spacingAndGlyphs">LOC PHAT HUNG</text><rect x="-10" y="16.6" width="20" height="0.35" fill="#fff" opacity="0.6"/></g>
<rect x="303.2" y="235.2" width="30" height="28" fill="none" stroke="#fff" stroke-opacity="0.3" stroke-width="0.8"/>
<text x="311" y="254.8" font-family="Liberation Sans" font-weight="bold" font-size="14.2" fill="#fff" fill-opacity="0.35">R</text>
<circle cx="383.7" cy="182.8" r="10.2" fill="#1f6a97"/>
<text x="383.7" y="187.1" text-anchor="middle" font-family="Liberation Sans" font-weight="bold" font-size="12.2" fill="#fff" textLength="12.5" lengthAdjust="spacingAndGlyphs">01</text>
<circle cx="383.7" cy="120.8" r="10.2" fill="#1f6a97"/>
<text x="383.7" y="125.1" text-anchor="middle" font-family="Liberation Sans" font-weight="bold" font-size="12.2" fill="#fff" textLength="12.5" lengthAdjust="spacingAndGlyphs">02</text>
<circle cx="383.8" cy="58.6" r="10.2" fill="#1f6a97"/>
<text x="383.8" y="62.9" text-anchor="middle" font-family="Liberation Sans" font-weight="bold" font-size="12.2" fill="#fff" textLength="12.5" lengthAdjust="spacingAndGlyphs">03</text>
<circle cx="452.7" cy="58.8" r="10.2" fill="#1f6a97"/>
<text x="452.7" y="63.1" text-anchor="middle" font-family="Liberation Sans" font-weight="bold" font-size="12.2" fill="#fff" textLength="12.5" lengthAdjust="spacingAndGlyphs">04</text>
<circle cx="452.7" cy="117.9" r="10.2" fill="#1f6a97"/>
<text x="452.7" y="122.2" text-anchor="middle" font-family="Liberation Sans" font-weight="bold" font-size="12.2" fill="#fff" textLength="12.5" lengthAdjust="spacingAndGlyphs">05</text>
<circle cx="452.7" cy="170.5" r="10.2" fill="#1f6a97"/>
<text x="452.7" y="174.8" text-anchor="middle" font-family="Liberation Sans" font-weight="bold" font-size="12.2" fill="#fff" textLength="12.5" lengthAdjust="spacingAndGlyphs">06</text>
<circle cx="452.4" cy="214.6" r="10.2" fill="#1f6a97"/>
<text x="452.4" y="218.9" text-anchor="middle" font-family="Liberation Sans" font-weight="bold" font-size="12.2" fill="#fff" textLength="12.5" lengthAdjust="spacingAndGlyphs">07</text>
<circle cx="542.4" cy="276.8" r="10.2" fill="#1f6a97"/>
<text x="542.4" y="281.1" text-anchor="middle" font-family="Liberation Sans" font-weight="bold" font-size="12.2" fill="#fff" textLength="12.5" lengthAdjust="spacingAndGlyphs">08</text>
<circle cx="595.8" cy="276.8" r="10.2" fill="#1f6a97"/>
<text x="595.8" y="281.1" text-anchor="middle" font-family="Liberation Sans" font-weight="bold" font-size="12.2" fill="#fff" textLength="12.5" lengthAdjust="spacingAndGlyphs">09</text>
<circle cx="651.0" cy="276.8" r="10.2" fill="#1f6a97"/>
<text x="651.0" y="281.1" text-anchor="middle" font-family="Liberation Sans" font-weight="bold" font-size="12.2" fill="#fff" textLength="12.5" lengthAdjust="spacingAndGlyphs">10</text>
<circle cx="655.8" cy="347.0" r="10.2" fill="#1f6a97"/>
<text x="655.8" y="351.3" text-anchor="middle" font-family="Liberation Sans" font-weight="bold" font-size="12.2" fill="#fff" textLength="12.5" lengthAdjust="spacingAndGlyphs">11</text>
<circle cx="604.0" cy="347.0" r="10.2" fill="#1f6a97"/>
<text x="604.0" y="351.3" text-anchor="middle" font-family="Liberation Sans" font-weight="bold" font-size="12.2" fill="#fff" textLength="12.5" lengthAdjust="spacingAndGlyphs">12</text>
<circle cx="548.0" cy="347.0" r="10.2" fill="#1f6a97"/>
<text x="548.0" y="351.3" text-anchor="middle" font-family="Liberation Sans" font-weight="bold" font-size="12.2" fill="#fff" textLength="15.5" lengthAdjust="spacingAndGlyphs">12A</text>
<circle cx="504.2" cy="347.0" r="10.2" fill="#1f6a97"/>
<text x="504.2" y="351.3" text-anchor="middle" font-family="Liberation Sans" font-weight="bold" font-size="12.2" fill="#fff" textLength="12.5" lengthAdjust="spacingAndGlyphs">14</text>
<circle cx="448.9" cy="347.0" r="10.2" fill="#1f6a97"/>
<text x="448.9" y="351.3" text-anchor="middle" font-family="Liberation Sans" font-weight="bold" font-size="12.2" fill="#fff" textLength="12.5" lengthAdjust="spacingAndGlyphs">15</text>
<circle cx="403.3" cy="347.0" r="10.2" fill="#1f6a97"/>
<text x="403.3" y="351.3" text-anchor="middle" font-family="Liberation Sans" font-weight="bold" font-size="12.2" fill="#fff" textLength="12.5" lengthAdjust="spacingAndGlyphs">16</text>
<circle cx="315.0" cy="321.5" r="10.2" fill="#1f6a97"/>
<text x="315.0" y="325.8" text-anchor="middle" font-family="Liberation Sans" font-weight="bold" font-size="12.2" fill="#fff" textLength="12.5" lengthAdjust="spacingAndGlyphs">17</text>
<circle cx="270.1" cy="351.8" r="10.2" fill="#1f6a97"/>
<text x="270.1" y="356.1" text-anchor="middle" font-family="Liberation Sans" font-weight="bold" font-size="12.2" fill="#fff" textLength="12.5" lengthAdjust="spacingAndGlyphs">18</text>
<circle cx="236.5" cy="375.5" r="10.2" fill="#1f6a97"/>
<text x="236.5" y="379.8" text-anchor="middle" font-family="Liberation Sans" font-weight="bold" font-size="12.2" fill="#fff" textLength="12.5" lengthAdjust="spacingAndGlyphs">19</text>
<circle cx="189.0" cy="409.7" r="10.2" fill="#1f6a97"/>
<text x="189.0" y="414.0" text-anchor="middle" font-family="Liberation Sans" font-weight="bold" font-size="12.2" fill="#fff" textLength="12.5" lengthAdjust="spacingAndGlyphs">20</text>
<circle cx="146.1" cy="440.3" r="10.2" fill="#1f6a97"/>
<text x="146.1" y="444.6" text-anchor="middle" font-family="Liberation Sans" font-weight="bold" font-size="12.2" fill="#fff" textLength="12.5" lengthAdjust="spacingAndGlyphs">21</text>
<circle cx="115.0" cy="376.2" r="10.2" fill="#1f6a97"/>
<text x="115.0" y="380.5" text-anchor="middle" font-family="Liberation Sans" font-weight="bold" font-size="12.2" fill="#fff" textLength="12.5" lengthAdjust="spacingAndGlyphs">22</text>
<circle cx="170.1" cy="338.3" r="10.2" fill="#1f6a97"/>
<text x="170.1" y="342.6" text-anchor="middle" font-family="Liberation Sans" font-weight="bold" font-size="12.2" fill="#fff" textLength="12.5" lengthAdjust="spacingAndGlyphs">23</text>
<circle cx="230.2" cy="297.1" r="10.2" fill="#1f6a97"/>
<text x="230.2" y="301.4" text-anchor="middle" font-family="Liberation Sans" font-weight="bold" font-size="12.2" fill="#fff" textLength="12.5" lengthAdjust="spacingAndGlyphs">24</text>
<circle cx="284.8" cy="259.3" r="10.2" fill="#1f6a97"/>
<text x="284.8" y="263.6" text-anchor="middle" font-family="Liberation Sans" font-weight="bold" font-size="12.2" fill="#fff" textLength="12.5" lengthAdjust="spacingAndGlyphs">25</text>
<text x="296.7" y="42.6" font-family="Liberation Sans" font-size="8.8" fill="#222" stroke="#222" stroke-width="0.18" textLength="37.0" lengthAdjust="spacingAndGlyphs">113.42m²</text>
<text x="296.3" y="55.0" font-family="Liberation Sans" font-size="8.8" fill="#222" stroke="#222" stroke-width="0.18" textLength="38.7" lengthAdjust="spacingAndGlyphs">106.93m²</text>
<text x="499.2" y="52.6" font-family="Liberation Sans" font-size="8.8" fill="#222" stroke="#222" stroke-width="0.18" textLength="32.4" lengthAdjust="spacingAndGlyphs">69.72m²</text>
<text x="499.2" y="65.0" font-family="Liberation Sans" font-size="8.8" fill="#222" stroke="#222" stroke-width="0.18" textLength="33.2" lengthAdjust="spacingAndGlyphs">64.47m²</text>
<text x="303.8" y="117.9" font-family="Liberation Sans" font-size="8.8" fill="#222" stroke="#222" stroke-width="0.18" textLength="35.6" lengthAdjust="spacingAndGlyphs">59.00m²</text>
<text x="305.9" y="130.0" font-family="Liberation Sans" font-size="8.8" fill="#222" stroke="#222" stroke-width="0.18" textLength="33.5" lengthAdjust="spacingAndGlyphs">54.25m²</text>
<text x="303.8" y="177.9" font-family="Liberation Sans" font-size="8.8" fill="#222" stroke="#222" stroke-width="0.18" textLength="35.6" lengthAdjust="spacingAndGlyphs">59.00m²</text>
<text x="305.9" y="190.3" font-family="Liberation Sans" font-size="8.8" fill="#222" stroke="#222" stroke-width="0.18" textLength="33.5" lengthAdjust="spacingAndGlyphs">54.25m²</text>
<text x="499.5" y="118.0" font-family="Liberation Sans" font-size="8.8" fill="#222" stroke="#222" stroke-width="0.18" textLength="35.7" lengthAdjust="spacingAndGlyphs">59.00m²</text>
<text x="501.7" y="130.6" font-family="Liberation Sans" font-size="8.8" fill="#222" stroke="#222" stroke-width="0.18" textLength="33.5" lengthAdjust="spacingAndGlyphs">54.25m²</text>
<text x="499.5" y="168.5" font-family="Liberation Sans" font-size="8.8" fill="#222" stroke="#222" stroke-width="0.18" textLength="35.7" lengthAdjust="spacingAndGlyphs">59.00m²</text>
<text x="501.7" y="181.0" font-family="Liberation Sans" font-size="8.8" fill="#222" stroke="#222" stroke-width="0.18" textLength="33.5" lengthAdjust="spacingAndGlyphs">54.25m²</text>
<text x="496.2" y="199.3" font-family="Liberation Sans" font-size="8.8" fill="#222" stroke="#222" stroke-width="0.18" textLength="36.0" lengthAdjust="spacingAndGlyphs">59.00m²</text>
<text x="498.4" y="212.0" font-family="Liberation Sans" font-size="8.8" fill="#222" stroke="#222" stroke-width="0.18" textLength="33.8" lengthAdjust="spacingAndGlyphs">54.25m²</text>
<text x="520.2" y="220.7" font-family="Liberation Sans" font-size="8.8" fill="#222" stroke="#222" stroke-width="0.18" textLength="35.8" lengthAdjust="spacingAndGlyphs">59.00m²</text>
<text x="522.4" y="232.9" font-family="Liberation Sans" font-size="8.8" fill="#222" stroke="#222" stroke-width="0.18" textLength="33.6" lengthAdjust="spacingAndGlyphs">54.25m²</text>
<text x="578.0" y="220.7" font-family="Liberation Sans" font-size="8.8" fill="#222" stroke="#222" stroke-width="0.18" textLength="36.0" lengthAdjust="spacingAndGlyphs">59.00m²</text>
<text x="580.2" y="232.9" font-family="Liberation Sans" font-size="8.8" fill="#222" stroke="#222" stroke-width="0.18" textLength="33.8" lengthAdjust="spacingAndGlyphs">54.25m²</text>
<text x="638.0" y="221.0" font-family="Liberation Sans" font-size="8.8" fill="#222" stroke="#222" stroke-width="0.18" textLength="33.6" lengthAdjust="spacingAndGlyphs">85.42m²</text>
<text x="638.8" y="233.2" font-family="Liberation Sans" font-size="8.8" fill="#222" stroke="#222" stroke-width="0.18" textLength="32.8" lengthAdjust="spacingAndGlyphs">79.75m²</text>
<text x="387.2" y="390.9" font-family="Liberation Sans" font-size="8.8" fill="#222" stroke="#222" stroke-width="0.18" textLength="35.8" lengthAdjust="spacingAndGlyphs">59.00m²</text>
<text x="389.7" y="403.8" font-family="Liberation Sans" font-size="8.8" fill="#222" stroke="#222" stroke-width="0.18" textLength="33.3" lengthAdjust="spacingAndGlyphs">54.25m²</text>
<text x="431.3" y="390.9" font-family="Liberation Sans" font-size="8.8" fill="#222" stroke="#222" stroke-width="0.18" textLength="36.6" lengthAdjust="spacingAndGlyphs">59.00m²</text>
<text x="433.6" y="403.8" font-family="Liberation Sans" font-size="8.8" fill="#222" stroke="#222" stroke-width="0.18" textLength="34.3" lengthAdjust="spacingAndGlyphs">54.25m²</text>
<text x="489.3" y="390.9" font-family="Liberation Sans" font-size="8.8" fill="#222" stroke="#222" stroke-width="0.18" textLength="36.6" lengthAdjust="spacingAndGlyphs">59.00m²</text>
<text x="491.6" y="403.8" font-family="Liberation Sans" font-size="8.8" fill="#222" stroke="#222" stroke-width="0.18" textLength="34.3" lengthAdjust="spacingAndGlyphs">54.25m²</text>
<text x="530.5" y="390.9" font-family="Liberation Sans" font-size="8.8" fill="#222" stroke="#222" stroke-width="0.18" textLength="36.3" lengthAdjust="spacingAndGlyphs">59.00m²</text>
<text x="532.7" y="403.8" font-family="Liberation Sans" font-size="8.8" fill="#222" stroke="#222" stroke-width="0.18" textLength="34.1" lengthAdjust="spacingAndGlyphs">54.25m²</text>
<text x="588.3" y="391.0" font-family="Liberation Sans" font-size="8.8" fill="#222" stroke="#222" stroke-width="0.18" textLength="35.9" lengthAdjust="spacingAndGlyphs">59.00m²</text>
<text x="591.0" y="403.6" font-family="Liberation Sans" font-size="8.8" fill="#222" stroke="#222" stroke-width="0.18" textLength="33.2" lengthAdjust="spacingAndGlyphs">54.25m²</text>
<text x="641.5" y="392.3" font-family="Liberation Sans" font-size="8.8" fill="#222" stroke="#222" stroke-width="0.18" textLength="32.6" lengthAdjust="spacingAndGlyphs">85.42m²</text>
<text x="642.8" y="404.7" font-family="Liberation Sans" font-size="8.8" fill="#222" stroke="#222" stroke-width="0.18" textLength="31.3" lengthAdjust="spacingAndGlyphs">79.75m²</text>
<text x="219.3" y="208.1" font-family="Liberation Sans" font-size="8.8" fill="#222" stroke="#222" stroke-width="0.18" textLength="37.0" lengthAdjust="spacingAndGlyphs">113.42m²</text>
<text x="218.6" y="220.4" font-family="Liberation Sans" font-size="8.8" fill="#222" stroke="#222" stroke-width="0.18" textLength="39.2" lengthAdjust="spacingAndGlyphs">106.93m²</text>
<text x="171.1" y="244.3" font-family="Liberation Sans" font-size="8.8" fill="#222" stroke="#222" stroke-width="0.18" textLength="35.9" lengthAdjust="spacingAndGlyphs">59.00m²</text>
<text x="173.1" y="256.6" font-family="Liberation Sans" font-size="8.8" fill="#222" stroke="#222" stroke-width="0.18" textLength="33.9" lengthAdjust="spacingAndGlyphs">54.25m²</text>
<text x="112.0" y="288.1" font-family="Liberation Sans" font-size="8.8" fill="#222" stroke="#222" stroke-width="0.18" textLength="36.2" lengthAdjust="spacingAndGlyphs">59.00m²</text>
<text x="114.3" y="300.4" font-family="Liberation Sans" font-size="8.8" fill="#222" stroke="#222" stroke-width="0.18" textLength="33.9" lengthAdjust="spacingAndGlyphs">54.25m²</text>
<text x="53.4" y="324.3" font-family="Liberation Sans" font-size="8.8" fill="#222" stroke="#222" stroke-width="0.18" textLength="37.0" lengthAdjust="spacingAndGlyphs">113.42m²</text>
<text x="53.3" y="335.9" font-family="Liberation Sans" font-size="8.8" fill="#222" stroke="#222" stroke-width="0.18" textLength="38.7" lengthAdjust="spacingAndGlyphs">106.93m²</text>
<text x="335.6" y="356.4" font-family="Liberation Sans" font-size="8.8" fill="#222" stroke="#222" stroke-width="0.18" textLength="36.1" lengthAdjust="spacingAndGlyphs">59.00m²</text>
<text x="338.3" y="368.8" font-family="Liberation Sans" font-size="8.8" fill="#222" stroke="#222" stroke-width="0.18" textLength="33.4" lengthAdjust="spacingAndGlyphs">54.25m²</text>
<text x="299.5" y="385.9" font-family="Liberation Sans" font-size="8.8" fill="#222" stroke="#222" stroke-width="0.18" textLength="36.1" lengthAdjust="spacingAndGlyphs">59.00m²</text>
<text x="301.9" y="397.9" font-family="Liberation Sans" font-size="8.8" fill="#222" stroke="#222" stroke-width="0.18" textLength="33.7" lengthAdjust="spacingAndGlyphs">54.25m²</text>
<text x="259.5" y="410.1" font-family="Liberation Sans" font-size="8.8" fill="#222" stroke="#222" stroke-width="0.18" textLength="36.0" lengthAdjust="spacingAndGlyphs">59.00m²</text>
<text x="262.4" y="422.0" font-family="Liberation Sans" font-size="8.8" fill="#222" stroke="#222" stroke-width="0.18" textLength="33.1" lengthAdjust="spacingAndGlyphs">54.25m²</text>
<text x="208.0" y="447.8" font-family="Liberation Sans" font-size="8.8" fill="#222" stroke="#222" stroke-width="0.18" textLength="35.2" lengthAdjust="spacingAndGlyphs">59.00m²</text>
<text x="210.2" y="459.8" font-family="Liberation Sans" font-size="8.8" fill="#222" stroke="#222" stroke-width="0.18" textLength="33.0" lengthAdjust="spacingAndGlyphs">54.25m²</text>
<text x="158.3" y="479.3" font-family="Liberation Sans" font-size="8.8" fill="#222" stroke="#222" stroke-width="0.18" textLength="32.4" lengthAdjust="spacingAndGlyphs">69.72m²</text>
<text x="158.8" y="491.4" font-family="Liberation Sans" font-size="8.8" fill="#222" stroke="#222" stroke-width="0.18" textLength="32.4" lengthAdjust="spacingAndGlyphs">64.47m²</text>
<text x="352.3" y="474.9" font-family="Liberation Sans" font-size="12.7" fill="#222" textLength="76.6" lengthAdjust="spacingAndGlyphs">TẦNG 4 - 19</text>
<text x="351.5" y="257.8" font-family="Liberation Sans" font-weight="bold" font-size="10.8" fill="#fff" stroke="#fff" stroke-width="0.35" textLength="71" lengthAdjust="spacingAndGlyphs">0942.098.890</text>
<text transform="translate(31.3,137.6) rotate(-90)" font-family="Liberation Sans" font-weight="bold" font-size="22.4" fill="#fff" textLength="116.5" lengthAdjust="spacing">MEKONG</text>
<text transform="translate(27,452.4) rotate(-90)" font-family="Liberation Sans" font-weight="bold" font-size="12.3" fill="#fff" textLength="178.6" lengthAdjust="spacingAndGlyphs">MẶT BẰNG TẦNG ĐIỂN HÌNH</text>
<text transform="translate(27,268.6) rotate(-90)" font-family="Liberation Sans" font-size="13" fill="#fff">/</text>
<text transform="translate(26.5,257.8) rotate(-90)" font-family="Liberation Sans" font-size="6.6" fill="#fff" textLength="84" lengthAdjust="spacingAndGlyphs">TYPICAL FLOOR PLAN</text>
<polygon points="22.5,460.0 30.0,473.0 15.0,473.0" fill="#fff" /></svg>
</body></html>
